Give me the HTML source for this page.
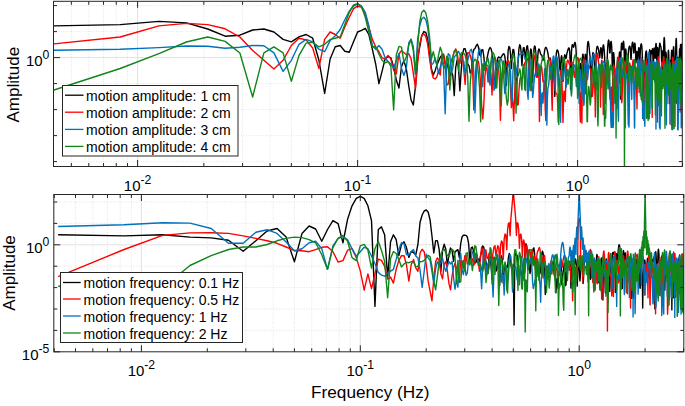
<!DOCTYPE html>
<html><head><meta charset="utf-8"><style>
html,body{margin:0;padding:0;background:#fff;width:685px;height:406px;overflow:hidden}
svg{display:block}
</style></head><body>
<svg width="685" height="406" viewBox="0 0 685 406">
<defs>
<clipPath id="ct"><rect x="53.5" y="1.3" width="628.8" height="165.2"/></clipPath>
<clipPath id="cb"><rect x="53.8" y="194.5" width="630.0" height="157.3"/></clipPath>
</defs>
<rect width="685" height="406" fill="#fff"/>
<line x1="71.37" y1="1.3" x2="71.37" y2="166.5" stroke="#c8c8c8" stroke-width="0.6" stroke-dasharray="0.8 1.7"/>
<line x1="88.79" y1="1.3" x2="88.79" y2="166.5" stroke="#c8c8c8" stroke-width="0.6" stroke-dasharray="0.8 1.7"/>
<line x1="103.52" y1="1.3" x2="103.52" y2="166.5" stroke="#c8c8c8" stroke-width="0.6" stroke-dasharray="0.8 1.7"/>
<line x1="116.28" y1="1.3" x2="116.28" y2="166.5" stroke="#c8c8c8" stroke-width="0.6" stroke-dasharray="0.8 1.7"/>
<line x1="127.53" y1="1.3" x2="127.53" y2="166.5" stroke="#c8c8c8" stroke-width="0.6" stroke-dasharray="0.8 1.7"/>
<line x1="203.83" y1="1.3" x2="203.83" y2="166.5" stroke="#c8c8c8" stroke-width="0.6" stroke-dasharray="0.8 1.7"/>
<line x1="242.57" y1="1.3" x2="242.57" y2="166.5" stroke="#c8c8c8" stroke-width="0.6" stroke-dasharray="0.8 1.7"/>
<line x1="270.05" y1="1.3" x2="270.05" y2="166.5" stroke="#c8c8c8" stroke-width="0.6" stroke-dasharray="0.8 1.7"/>
<line x1="291.37" y1="1.3" x2="291.37" y2="166.5" stroke="#c8c8c8" stroke-width="0.6" stroke-dasharray="0.8 1.7"/>
<line x1="308.79" y1="1.3" x2="308.79" y2="166.5" stroke="#c8c8c8" stroke-width="0.6" stroke-dasharray="0.8 1.7"/>
<line x1="323.52" y1="1.3" x2="323.52" y2="166.5" stroke="#c8c8c8" stroke-width="0.6" stroke-dasharray="0.8 1.7"/>
<line x1="336.28" y1="1.3" x2="336.28" y2="166.5" stroke="#c8c8c8" stroke-width="0.6" stroke-dasharray="0.8 1.7"/>
<line x1="347.53" y1="1.3" x2="347.53" y2="166.5" stroke="#c8c8c8" stroke-width="0.6" stroke-dasharray="0.8 1.7"/>
<line x1="423.83" y1="1.3" x2="423.83" y2="166.5" stroke="#c8c8c8" stroke-width="0.6" stroke-dasharray="0.8 1.7"/>
<line x1="462.57" y1="1.3" x2="462.57" y2="166.5" stroke="#c8c8c8" stroke-width="0.6" stroke-dasharray="0.8 1.7"/>
<line x1="490.05" y1="1.3" x2="490.05" y2="166.5" stroke="#c8c8c8" stroke-width="0.6" stroke-dasharray="0.8 1.7"/>
<line x1="511.37" y1="1.3" x2="511.37" y2="166.5" stroke="#c8c8c8" stroke-width="0.6" stroke-dasharray="0.8 1.7"/>
<line x1="528.79" y1="1.3" x2="528.79" y2="166.5" stroke="#c8c8c8" stroke-width="0.6" stroke-dasharray="0.8 1.7"/>
<line x1="543.52" y1="1.3" x2="543.52" y2="166.5" stroke="#c8c8c8" stroke-width="0.6" stroke-dasharray="0.8 1.7"/>
<line x1="556.28" y1="1.3" x2="556.28" y2="166.5" stroke="#c8c8c8" stroke-width="0.6" stroke-dasharray="0.8 1.7"/>
<line x1="567.53" y1="1.3" x2="567.53" y2="166.5" stroke="#c8c8c8" stroke-width="0.6" stroke-dasharray="0.8 1.7"/>
<line x1="643.83" y1="1.3" x2="643.83" y2="166.5" stroke="#c8c8c8" stroke-width="0.6" stroke-dasharray="0.8 1.7"/>
<line x1="682.57" y1="1.3" x2="682.57" y2="166.5" stroke="#c8c8c8" stroke-width="0.6" stroke-dasharray="0.8 1.7"/>
<line x1="53.5" y1="161.60" x2="682.3" y2="161.60" stroke="#c8c8c8" stroke-width="0.6" stroke-dasharray="0.8 1.7"/>
<line x1="53.5" y1="135.60" x2="682.3" y2="135.60" stroke="#c8c8c8" stroke-width="0.6" stroke-dasharray="0.8 1.7"/>
<line x1="53.5" y1="109.60" x2="682.3" y2="109.60" stroke="#c8c8c8" stroke-width="0.6" stroke-dasharray="0.8 1.7"/>
<line x1="53.5" y1="83.60" x2="682.3" y2="83.60" stroke="#c8c8c8" stroke-width="0.6" stroke-dasharray="0.8 1.7"/>
<line x1="53.5" y1="31.60" x2="682.3" y2="31.60" stroke="#c8c8c8" stroke-width="0.6" stroke-dasharray="0.8 1.7"/>
<line x1="53.5" y1="5.60" x2="682.3" y2="5.60" stroke="#c8c8c8" stroke-width="0.6" stroke-dasharray="0.8 1.7"/>
<line x1="137.60" y1="1.3" x2="137.60" y2="166.5" stroke="#d9d9d9" stroke-width="0.8"/>
<line x1="357.60" y1="1.3" x2="357.60" y2="166.5" stroke="#d9d9d9" stroke-width="0.8"/>
<line x1="577.60" y1="1.3" x2="577.60" y2="166.5" stroke="#d9d9d9" stroke-width="0.8"/>
<line x1="53.5" y1="57.60" x2="682.3" y2="57.60" stroke="#d9d9d9" stroke-width="0.8"/>
<polyline points="53.95,25.90 120.18,24.60 158.92,21.40 186.41,22.90 207.73,29.00 225.15,36.20 239.88,35.20 252.63,30.00 263.89,29.00 273.95,32.00 283.06,39.40 291.37,41.80 299.02,36.90 306.10,34.50 312.69,38.20 318.86,60.00 324.65,93.50 330.11,59.00 335.28,46.80 340.18,45.50 344.84,51.20 349.29,52.20 353.53,41.80 357.60,32.00 361.50,30.30 365.25,28.30 368.85,34.50 372.33,49.20 375.68,64.00 378.92,83.70 382.05,71.40 385.09,59.00 388.03,56.60 390.88,57.80 393.65,67.00 396.34,80.00 398.96,88.00 401.51,66.50 403.99,60.60 406.41,69.50 408.77,86.20 411.07,100.00 413.32,105.00 415.51,86.20 417.66,58.60 419.76,47.00 421.82,35.50 423.83,31.60 425.80,32.50 427.73,39.40 429.62,55.20 431.47,69.00 433.29,75.00 435.08,71.00 436.83,65.10 438.55,61.10 440.25,57.20 441.91,55.20 443.54,54.20 445.15,63.87 446.73,63.02 448.28,68.09 449.81,76.68 451.31,71.56 452.79,75.20 454.25,95.64 455.69,67.63 457.11,59.89 458.50,67.04 459.88,90.87 461.23,70.08 462.57,53.88 463.88,48.71 465.18,48.60 466.47,54.08 467.73,64.18 468.98,65.64 470.21,72.99 471.43,71.62 472.63,54.09 473.82,49.53 474.99,48.42 476.15,45.86 477.29,44.17 478.43,46.85 479.54,54.59 480.65,56.23 481.74,49.88 482.82,49.76 483.89,57.02 484.94,69.92 485.99,65.22 487.02,58.64 488.04,53.28 489.05,49.29 490.05,47.50 491.04,48.61 492.02,52.48 492.99,60.65 493.95,75.26 494.90,88.57 495.85,74.33 496.78,63.63 497.70,58.28 498.62,56.87 499.52,57.50 500.42,58.22 501.31,57.02 502.19,55.47 503.06,54.11 503.92,53.74 504.78,55.95 505.63,63.89 506.47,85.44 507.31,66.26 508.13,50.90 508.95,46.50 509.77,47.59 510.57,54.74 511.37,68.48 512.17,56.17 512.95,49.51 513.73,49.64 514.51,56.52 515.27,80.39 516.04,103.24 516.79,79.41 517.54,73.00 518.28,57.42 519.02,48.17 519.75,44.70 520.48,46.10 521.20,53.02 521.92,65.66 522.63,54.33 523.33,47.88 524.03,47.58 524.73,52.79 525.42,59.70 526.10,51.94 526.78,46.41 527.46,45.80 528.13,50.92 528.79,70.75 529.45,72.64 530.11,53.14 530.76,48.86 531.41,50.57 532.05,60.63 532.69,82.76 533.33,59.23 533.96,48.98 534.59,45.92 535.21,46.95 535.83,52.80 536.44,69.78 537.05,77.25 537.66,57.99 538.26,50.93 538.86,48.95 539.46,49.69 540.05,52.00 540.63,54.19 541.22,54.87 541.80,55.27 542.38,57.26 542.95,60.27 543.52,59.82 544.09,54.64 544.65,50.57 545.21,48.14 545.77,47.36 546.32,47.81 546.87,49.09 547.42,50.96 547.97,53.48 548.51,57.25 549.05,60.25 549.58,59.31 550.11,58.07 550.64,59.52 551.17,66.05 551.69,83.34 552.21,93.79 552.73,70.15 553.25,61.52 553.76,60.97 554.27,68.65 554.78,96.39 555.28,85.90 555.78,62.64 556.28,53.82 556.78,50.84 557.27,49.89 557.76,50.48 558.25,52.03 558.74,54.50 559.22,59.69 559.70,67.36 560.18,71.04 560.66,64.45 561.13,57.97 561.60,55.74 562.07,58.33 562.54,66.84 563.00,81.50 563.47,75.74 563.93,62.79 564.39,56.28 564.84,54.74 565.30,56.23 565.75,58.54 566.20,58.02 566.64,54.94 567.09,52.72 567.53,51.08 567.97,49.72 568.41,48.51 568.85,47.83 569.29,48.40 569.72,51.55 570.15,61.17 570.58,89.57 571.01,70.47 571.43,52.75 571.86,46.88 572.28,44.69 572.70,44.92 573.12,46.46 573.53,47.31 573.95,46.06 574.36,43.88 574.77,42.48 575.18,42.70 575.59,44.93 575.99,49.20 576.40,57.11 576.80,72.72 577.20,81.55 577.60,73.31 578.00,70.24 578.39,74.37 578.79,88.10 579.18,96.20 579.57,76.85 579.96,67.27 580.35,63.55 580.73,65.14 581.12,71.95 581.50,78.44 581.88,70.00 582.26,59.99 582.64,54.72 583.02,54.14 583.39,57.63 583.77,67.25 584.14,80.49 584.51,71.04 584.88,58.98 585.25,54.25 585.61,54.94 585.98,63.26 586.34,92.29 586.71,76.54 587.07,53.60 587.43,46.06 587.79,42.42 588.14,41.35 588.50,42.36 588.85,44.70 589.21,48.29 589.56,52.24 589.91,55.36 590.26,58.25 590.61,62.43 590.95,71.41 591.30,95.06 591.64,96.56 591.99,69.53 592.33,58.53 592.67,53.79 593.01,52.59 593.35,53.12 593.68,55.04 594.02,59.16 594.35,64.36 594.69,69.87 595.02,73.37 595.35,71.06 595.68,63.90 596.01,56.28 596.34,51.50 596.66,48.52 596.99,46.89 597.31,46.33 597.64,46.59 597.96,47.39 598.28,48.58 598.60,50.19 598.92,52.36 599.24,55.09 599.56,57.87 599.87,56.55 600.19,52.75 600.50,49.50 600.81,47.72 601.12,47.86 601.43,50.03 601.74,54.06 602.05,58.50 602.36,55.64 602.67,50.45 602.97,46.70 603.28,44.93 603.58,45.02 603.88,46.85 604.19,50.33 604.49,55.00 604.79,61.03 605.09,64.17 605.38,65.38 605.68,67.65 605.98,72.68 606.27,79.86 606.57,81.22 606.86,71.50 607.15,60.44 607.45,52.33 607.74,47.14 608.03,43.27 608.32,40.91 608.60,40.05 608.89,40.82 609.18,43.40 609.46,47.88 609.75,52.92 610.03,52.87 610.32,47.92 610.60,43.69 610.88,41.53 611.16,41.40 611.44,43.11 611.72,47.09 612.00,54.03 612.27,68.64 612.55,75.15 612.83,63.30 613.10,55.21 613.38,52.71 613.65,52.68 613.92,54.53 614.19,59.18 614.46,66.36 614.73,76.90 615.00,92.29 615.27,103.21 615.54,92.59 615.81,84.37 616.07,80.53 616.34,78.01 616.61,74.95 616.87,70.46 617.13,65.00 617.40,60.38 617.66,57.79 617.92,57.82 618.18,60.99 618.44,66.35 618.70,68.12 618.96,61.80 619.22,54.88 619.47,52.06 619.73,52.14 619.99,55.84 620.24,68.46 620.49,99.01 620.75,67.99 621.00,52.61 621.25,46.55 621.51,43.64 621.76,43.10 622.01,44.53 622.26,47.34 622.51,49.66 622.75,48.60 623.00,45.02 623.25,42.17 623.50,41.16 623.74,42.29 623.99,45.99 624.23,53.53 624.48,74.22 624.72,91.46 624.96,61.60 625.20,52.16 625.45,49.13 625.69,48.88 625.93,50.36 626.17,53.50 626.41,59.27 626.65,66.55 626.88,72.83 627.12,76.77 627.36,77.88 627.59,73.67 627.83,65.75 628.06,58.25 628.30,53.24 628.53,50.43 628.77,48.63 629.00,47.54 629.23,46.82 629.46,46.33 629.69,46.12 629.92,46.41 630.15,47.47 630.38,49.92 630.61,53.45 630.84,57.85 631.07,59.34 631.30,55.63 631.52,51.48 631.75,48.05 631.97,45.46 632.20,43.61 632.42,42.48 632.65,42.15 632.87,42.73 633.09,44.35 633.32,46.92 633.54,50.34 633.76,53.00 633.98,52.18 634.20,48.77 634.42,45.56 634.64,43.59 634.86,43.10 635.08,44.19 635.30,46.97 635.51,51.51 635.73,58.00 635.95,62.86 636.16,59.97 636.38,54.78 636.59,52.31 636.81,51.49 637.02,52.12 637.23,53.98 637.45,57.35 637.66,60.71 637.87,60.69 638.08,56.61 638.30,52.40 638.51,49.35 638.72,47.84 638.93,47.68 639.14,48.97 639.34,51.85 639.55,56.76 639.76,62.42 639.97,61.33 640.17,54.86 640.38,50.27 640.59,47.04 640.79,45.06 641.00,44.09 641.20,43.83 641.41,43.93 641.61,44.72 641.82,46.32 642.02,49.00 642.22,53.17 642.42,61.35 642.62,74.26 642.83,89.86 643.03,84.02 643.23,73.95 643.43,69.49 643.63,69.47 643.83,73.51 644.03,83.00 644.22,103.62 644.42,103.62 644.62,87.90 644.82,75.47 645.01,67.80 645.21,61.91 645.41,57.58 645.60,54.48 645.80,52.69 645.99,51.50 646.19,50.94 646.38,50.99 646.57,51.89 646.77,53.83 646.96,57.84 647.15,64.47 647.34,72.52 647.54,74.72 647.73,68.39 647.92,62.25 648.11,59.15 648.30,59.55 648.49,64.32 648.68,77.84 648.87,103.62 649.06,74.47 649.24,58.59 649.43,52.07 649.62,49.81 649.81,50.23 649.99,53.73 650.18,64.14 650.37,91.83 650.55,84.55 650.74,62.32 650.92,53.67 651.11,51.00 651.29,50.62 651.47,51.74 651.66,53.30 651.84,53.73 652.02,52.45 652.21,50.27 652.39,48.79 652.57,49.01 652.75,51.42 652.93,57.39 653.11,70.19 653.29,78.00 653.47,64.92 653.65,54.74 653.83,50.52 654.01,48.46 654.19,47.92 654.37,48.43 654.55,49.65 654.73,51.76 654.90,54.66 655.08,58.24 655.26,57.88 655.43,53.23 655.61,48.62 655.79,45.21 655.96,43.49 656.14,43.61 656.31,45.82 656.49,50.73 656.66,59.80 656.83,73.21 657.01,65.29 657.18,53.91 657.35,49.26 657.53,47.49 657.70,47.90 657.87,50.46 658.04,55.30 658.21,64.22 658.38,69.73 658.55,65.78 658.73,59.88 658.90,55.18 659.07,52.10 659.23,49.14 659.40,46.46 659.57,44.42 659.74,43.35 659.91,43.22 660.08,43.77 660.25,44.64 660.41,45.43 660.58,45.97 660.75,46.20 660.91,46.73 661.08,48.13 661.25,50.62 661.41,54.27 661.58,60.45 661.74,66.96 661.91,69.01 662.07,64.41 662.24,57.97 662.40,53.42 662.56,51.22 662.73,50.83 662.89,52.66 663.05,58.66 663.22,71.95 663.38,72.59 663.54,55.04 663.70,46.71 663.86,41.63 664.03,38.73 664.19,37.52 664.35,37.80 664.51,39.53 664.67,42.98 664.83,48.64 664.99,58.88 665.15,84.19 665.31,94.20 665.46,68.00 665.62,57.79 665.78,53.47 665.94,52.23 666.10,52.82 666.26,55.35 666.41,61.92 666.57,75.13 666.73,103.62 666.88,92.64 667.04,74.75 667.19,69.00 667.35,69.63 667.51,75.31 667.66,82.56 667.82,74.69 667.97,62.40 668.13,54.47 668.28,51.19 668.43,50.28 668.59,51.29 668.74,54.27 668.89,61.29 669.05,72.97 669.20,93.24 669.35,103.62 669.50,97.99 669.66,100.71 669.81,103.62 669.96,91.68 670.11,72.99 670.26,64.05 670.41,60.13 670.56,60.26 670.71,64.24 670.86,70.88 671.01,72.51 671.16,65.10 671.31,57.19 671.46,52.81 671.61,50.82 671.76,50.20 671.91,50.47 672.06,51.46 672.20,52.96 672.35,55.19 672.50,60.20 672.65,69.55 672.79,85.80 672.94,77.55 673.09,60.72 673.23,52.14 673.38,48.32 673.53,46.69 673.67,46.86 673.82,48.85 673.96,52.84 674.11,60.80 674.25,72.82 674.40,77.82 674.54,71.64 674.69,67.75 674.83,68.22 674.97,73.03 675.12,83.23 675.26,93.15 675.40,76.31 675.55,60.42 675.69,50.84 675.83,45.10 675.97,41.04 676.12,38.82 676.26,38.47 676.40,40.12 676.54,44.20 676.68,51.92 676.82,72.63 676.96,103.56 677.11,67.56 677.25,59.87 677.39,61.09 677.53,70.19 677.67,89.58 677.81,79.57 677.94,65.57 678.08,60.82 678.22,62.85 678.36,73.25 678.50,103.62 678.64,93.26 678.78,74.38 678.91,69.87 679.05,69.77 679.19,66.79 679.33,58.36 679.46,51.95 679.60,48.99 679.74,48.64 679.88,50.81 680.01,54.81 680.15,55.87 680.28,50.76 680.42,46.22 680.56,44.44 680.69,45.49 680.83,49.63 680.96,57.53 681.10,61.74 681.23,53.28 681.36,47.71 681.50,44.83 681.63,44.12 681.77,45.16 681.90,47.71 682.03,51.74 682.17,58.65 682.30,70.59 682.43,87.89 682.57,90.55" fill="none" stroke="#000000" stroke-width="1.4" stroke-linejoin="round" clip-path="url(#ct)"/>
<polyline points="53.95,43.90 120.18,37.00 158.92,25.90 186.41,23.40 207.73,24.60 225.15,28.80 239.88,37.00 252.63,50.50 263.89,60.30 273.95,69.00 283.06,60.30 291.37,45.50 299.02,38.20 306.10,39.90 312.69,48.00 318.86,68.40 324.65,39.40 330.11,32.00 335.28,34.50 340.18,38.20 344.84,27.00 349.29,17.20 353.53,8.60 357.60,6.20 361.50,7.40 365.25,14.80 368.85,27.00 372.33,39.40 375.68,46.80 378.92,51.70 382.05,57.80 385.09,59.00 388.03,55.40 390.88,59.00 393.65,70.00 396.34,74.00 398.96,53.70 401.51,50.80 403.99,52.70 406.41,54.70 408.77,53.70 411.07,58.60 413.32,73.40 415.51,88.20 417.66,62.60 419.76,43.50 421.82,35.50 423.83,33.90 425.80,36.50 427.73,44.40 429.62,59.20 431.47,71.00 433.29,78.00 435.08,79.00 436.83,77.00 438.55,71.00 440.25,75.07 441.91,54.88 443.54,54.78 445.15,64.47 446.73,85.09 448.28,83.84 449.81,66.81 451.31,60.61 452.79,56.87 454.25,51.45 455.69,48.87 457.11,52.12 458.50,63.19 459.88,63.36 461.23,54.94 462.57,55.91 463.88,71.00 465.18,84.36 466.47,58.33 467.73,52.75 468.98,52.63 470.21,55.26 471.43,59.99 472.63,70.31 473.82,109.97 474.99,84.30 476.15,64.54 477.29,60.04 478.43,61.69 479.54,68.79 480.65,85.14 481.74,106.41 482.82,118.94 483.89,103.44 484.94,76.28 485.99,66.92 487.02,69.02 488.04,81.99 489.05,78.71 490.05,69.54 491.04,74.63 492.02,94.99 492.99,69.93 493.95,58.86 494.90,56.90 495.85,60.65 496.78,67.38 497.70,69.09 498.62,69.80 499.52,81.73 500.42,120.23 501.31,88.52 502.19,73.90 503.06,72.13 503.92,73.88 504.78,70.94 505.63,65.91 506.47,62.91 507.31,60.96 508.13,60.45 508.95,62.26 509.77,69.17 510.57,89.21 511.37,107.62 512.17,96.87 512.95,104.36 513.73,120.70 514.51,95.47 515.27,82.94 516.04,81.68 516.79,89.28 517.54,105.14 518.28,104.55 519.02,89.25 519.75,80.49 520.48,77.13 521.20,77.72 521.92,80.18 522.63,78.21 523.33,71.26 524.03,65.72 524.73,63.19 525.42,61.94 526.10,60.79 526.78,59.42 527.46,58.89 528.13,60.94 528.79,66.61 529.45,80.80 530.11,90.81 530.76,78.68 531.41,68.67 532.05,63.16 532.69,58.74 533.33,55.88 533.96,55.14 534.59,57.21 535.21,63.03 535.83,75.98 536.44,77.11 537.05,66.20 537.66,63.09 538.26,65.51 538.86,78.24 539.46,121.61 540.05,84.31 540.63,68.62 541.22,65.85 541.80,67.78 542.38,74.82 542.95,81.68 543.52,81.48 544.09,80.54 544.65,86.57 545.21,108.19 545.77,120.48 546.32,86.00 546.87,72.10 547.42,65.81 547.97,62.41 548.51,60.10 549.05,58.65 549.58,58.35 550.11,59.93 550.64,64.05 551.17,73.18 551.69,96.23 552.21,110.32 552.73,84.74 553.25,76.01 553.76,74.27 554.27,76.86 554.78,82.35 555.28,88.91 555.78,93.04 556.28,93.77 556.78,93.69 557.27,95.69 557.76,104.81 558.25,122.28 558.74,116.68 559.22,91.24 559.70,79.87 560.18,73.49 560.66,70.69 561.13,71.17 561.60,75.34 562.07,84.76 562.54,104.16 563.00,122.45 563.47,101.05 563.93,91.25 564.39,91.42 564.84,98.93 565.30,101.54 565.75,85.18 566.20,71.80 566.64,65.15 567.09,61.73 567.53,60.25 567.97,60.26 568.41,61.32 568.85,62.86 569.29,64.14 569.72,64.71 570.15,64.52 570.58,63.85 571.01,63.06 571.43,62.37 571.86,62.11 572.28,62.57 572.70,63.98 573.12,66.52 573.53,69.97 573.95,74.81 574.36,77.42 574.77,75.84 575.18,71.78 575.59,68.15 575.99,65.27 576.40,62.68 576.80,60.41 577.20,58.65 577.60,57.64 578.00,57.73 578.39,59.24 578.79,62.44 579.18,68.03 579.57,80.73 579.96,108.48 580.35,121.95 580.73,96.98 581.12,92.76 581.50,101.22 581.88,123.12 582.26,91.55 582.64,72.47 583.02,64.37 583.39,60.39 583.77,58.92 584.14,59.65 584.51,62.58 584.88,68.02 585.25,79.44 585.61,93.75 585.98,89.65 586.34,79.06 586.71,72.68 587.07,69.38 587.43,67.77 587.79,66.63 588.14,65.80 588.50,65.35 588.85,65.76 589.21,66.59 589.56,67.58 589.91,68.41 590.26,69.00 590.61,69.76 590.95,71.75 591.30,75.78 591.64,82.12 591.99,90.39 592.33,96.40 592.67,94.33 593.01,89.00 593.35,84.73 593.68,81.93 594.02,80.62 594.35,81.51 594.69,85.83 595.02,97.14 595.35,117.05 595.68,88.07 596.01,69.52 596.34,61.54 596.66,56.66 596.99,54.01 597.31,53.21 597.64,54.10 597.96,56.54 598.28,60.09 598.60,63.56 598.92,65.07 599.24,64.81 599.56,65.20 599.87,68.17 600.19,78.11 600.50,107.16 600.81,90.64 601.12,69.76 601.43,62.97 601.74,60.21 602.05,60.46 602.36,63.63 602.67,70.76 602.97,92.88 603.28,114.44 603.58,81.55 603.88,70.63 604.19,68.56 604.49,70.65 604.79,79.65 605.09,99.23 605.38,103.48 605.68,81.23 605.98,70.17 606.27,65.94 606.57,63.80 606.86,63.05 607.15,63.31 607.45,64.35 607.74,66.22 608.03,69.04 608.32,72.89 608.60,77.62 608.89,81.81 609.18,85.54 609.46,89.70 609.75,94.81 610.03,99.17 610.32,97.90 610.60,92.39 610.88,88.04 611.16,87.05 611.44,91.39 611.72,103.40 612.00,124.19 612.27,105.94 612.55,85.95 612.83,74.90 613.10,69.14 613.38,66.41 613.65,65.12 613.92,65.13 614.19,66.46 614.46,69.30 614.73,74.76 615.00,82.34 615.27,86.32 615.54,83.28 615.81,79.56 616.07,79.36 616.34,84.69 616.61,95.83 616.87,90.46 617.13,73.69 617.40,65.01 617.66,60.15 617.92,57.57 618.18,56.90 618.44,57.87 618.70,60.47 618.96,64.71 619.22,70.50 619.47,78.92 619.73,82.70 619.99,81.61 620.24,80.18 620.49,80.61 620.75,83.24 621.00,87.78 621.25,93.51 621.51,99.38 621.76,102.77 622.01,100.33 622.26,92.49 622.51,82.87 622.75,73.84 623.00,67.89 623.25,64.00 623.50,61.49 623.74,60.33 623.99,60.52 624.23,62.04 624.48,64.96 624.72,68.31 624.96,70.02 625.20,68.74 625.45,66.25 625.69,64.41 625.93,63.86 626.17,64.57 626.41,66.26 626.65,68.49 626.88,70.77 627.12,73.44 627.36,76.42 627.59,80.62 627.83,89.10 628.06,108.48 628.30,124.76 628.53,93.05 628.77,77.08 629.00,69.13 629.23,65.30 629.46,63.35 629.69,63.01 629.92,64.18 630.15,66.71 630.38,70.23 630.61,72.40 630.84,70.72 631.07,67.90 631.30,66.19 631.52,66.43 631.75,68.89 631.97,72.64 632.20,73.49 632.42,68.81 632.65,64.01 632.87,60.85 633.09,59.59 633.32,60.04 633.54,62.56 633.76,67.51 633.98,77.20 634.20,93.77 634.42,98.27 634.64,88.96 634.86,84.29 635.08,84.38 635.30,86.46 635.51,85.68 635.73,80.79 635.95,76.01 636.16,73.76 636.38,75.40 636.59,82.62 636.81,100.49 637.02,108.89 637.23,81.80 637.45,69.10 637.66,63.55 637.87,60.60 638.08,59.63 638.30,60.45 638.51,63.16 638.72,68.57 638.93,79.46 639.14,92.42 639.34,85.19 639.55,74.39 639.76,69.40 639.97,67.56 640.17,67.31 640.38,67.51 640.59,66.79 640.79,64.60 641.00,61.85 641.20,59.62 641.41,58.47 641.61,58.55 641.82,59.93 642.02,62.50 642.22,65.63 642.42,67.64 642.62,67.00 642.83,65.13 643.03,63.88 643.23,64.19 643.43,66.56 643.63,71.70 643.83,84.03 644.03,106.14 644.22,106.67 644.42,89.18 644.62,81.68 644.82,79.68 645.01,79.79 645.21,77.76 645.41,72.52 645.60,67.91 645.80,64.15 645.99,61.75 646.19,60.75 646.38,60.96 646.57,62.10 646.77,63.67 646.96,65.10 647.15,66.25 647.34,67.67 647.54,69.86 647.73,74.92 647.92,87.47 648.11,114.24 648.30,97.62 648.49,78.89 648.68,70.61 648.87,67.78 649.06,67.73 649.24,70.05 649.43,75.19 649.62,82.21 649.81,85.18 649.99,83.67 650.18,83.43 650.37,84.67 650.55,82.53 650.74,74.60 650.92,68.03 651.11,63.81 651.29,61.73 651.47,61.87 651.66,64.57 651.84,70.89 652.02,89.78 652.21,117.39 652.39,82.20 652.57,69.42 652.75,64.72 652.93,63.04 653.11,63.69 653.29,66.75 653.47,71.98 653.65,79.00 653.83,79.60 654.01,75.11 654.19,71.91 654.37,71.28 654.55,72.25 654.73,74.72 654.90,77.43 655.08,78.74 655.26,77.88 655.43,75.39 655.61,72.95 655.79,70.49 655.96,68.00 656.14,65.94 656.31,64.72 656.49,64.63 656.66,65.72 656.83,68.73 657.01,75.83 657.18,95.47 657.35,122.14 657.53,80.66 657.70,67.29 657.87,61.25 658.04,58.00 658.21,56.83 658.38,57.53 658.55,60.10 658.73,64.65 658.90,71.45 659.07,83.52 659.23,94.50 659.40,97.32 659.57,100.16 659.74,107.11 659.91,105.61 660.08,91.85 660.25,81.63 660.41,76.50 660.58,75.80 660.75,79.22 660.91,84.36 661.08,82.39 661.25,73.26 661.41,67.51 661.58,63.99 661.74,62.37 661.91,62.23 662.07,63.08 662.24,64.42 662.40,65.75 662.56,66.65 662.73,66.46 662.89,65.18 663.05,63.10 663.22,60.53 663.38,58.21 663.54,56.83 663.70,56.81 663.86,58.58 664.03,62.64 664.19,69.39 664.35,77.09 664.51,72.55 664.67,66.24 664.83,62.71 664.99,62.02 665.15,64.02 665.31,68.85 665.46,77.56 665.62,83.45 665.78,75.11 665.94,69.44 666.10,67.72 666.26,69.03 666.41,73.32 666.57,83.68 666.73,93.06 666.88,89.98 667.04,84.20 667.19,81.72 667.35,81.18 667.51,79.23 667.66,76.17 667.82,72.68 667.97,70.32 668.13,68.62 668.28,67.75 668.43,67.70 668.59,68.68 668.74,70.64 668.89,72.84 669.05,73.07 669.20,70.19 669.35,66.71 669.50,63.82 669.66,62.29 669.81,62.38 669.96,64.21 670.11,67.88 670.26,73.59 670.41,83.28 670.56,90.62 670.71,92.96 670.86,95.94 671.01,105.63 671.16,124.92 671.31,117.52 671.46,104.91 671.61,103.63 671.76,109.65 671.91,95.82 672.06,77.66 672.20,67.94 672.35,62.57 672.50,59.35 672.65,57.72 672.79,57.27 672.94,58.04 673.09,59.93 673.23,62.88 673.38,66.70 673.53,70.34 673.67,71.41 673.82,68.67 673.96,64.89 674.11,62.30 674.25,61.61 674.40,63.23 674.54,67.62 674.69,76.97 674.83,100.05 674.97,126.42 675.12,99.33 675.26,89.11 675.40,83.42 675.55,75.84 675.69,69.17 675.83,64.53 675.97,61.85 676.12,61.18 676.26,62.59 676.40,66.19 676.54,72.20 676.68,82.71 676.82,87.42 676.96,80.78 677.11,73.42 677.25,69.83 677.39,67.75 677.53,67.45 677.67,68.96 677.81,72.78 677.94,83.47 678.08,109.59 678.22,115.00 678.36,85.36 678.50,73.75 678.64,69.93 678.78,68.91 678.91,69.90 679.05,72.83 679.19,76.69 679.33,77.15 679.46,74.44 679.60,72.57 679.74,73.00 679.88,77.62 680.01,88.38 680.15,112.13 680.28,107.92 680.42,85.44 680.56,74.94 680.69,71.00 680.83,70.04 680.96,71.09 681.10,73.84 681.23,78.45 681.36,83.45 681.50,88.24 681.63,91.51 681.77,91.76 681.90,89.60 682.03,86.54 682.17,83.01 682.30,79.33 682.43,75.98 682.57,73.61" fill="none" stroke="#ff0000" stroke-width="1.4" stroke-linejoin="round" clip-path="url(#ct)"/>
<polyline points="53.95,50.30 120.18,49.30 158.92,47.60 186.41,46.00 207.73,46.30 225.15,48.30 239.88,47.30 252.63,45.50 263.89,45.80 273.95,52.90 283.06,71.40 291.37,60.30 299.02,44.30 306.10,39.40 312.69,41.80 318.86,49.20 324.65,51.70 330.11,40.60 335.28,35.70 340.18,29.50 344.84,19.70 349.29,11.00 353.53,6.20 357.60,4.20 361.50,6.20 365.25,12.30 368.85,25.80 372.33,45.50 375.68,49.20 378.92,45.50 382.05,49.20 385.09,57.80 388.03,61.50 390.88,64.00 393.65,68.00 396.34,60.60 398.96,53.70 401.51,68.50 403.99,75.40 406.41,67.50 408.77,42.90 411.07,39.00 413.32,46.80 415.51,74.40 417.66,39.00 419.76,25.60 421.82,18.70 423.83,17.20 425.80,19.70 427.73,27.60 429.62,43.40 431.47,65.10 433.29,63.10 435.08,58.20 436.83,65.10 438.55,73.00 440.25,67.00 441.91,60.20 443.54,67.00 445.15,113.81 446.73,65.25 448.28,53.59 449.81,55.33 451.31,73.78 452.79,68.43 454.25,56.73 455.69,55.50 457.11,53.57 458.50,51.44 459.88,54.32 461.23,59.59 462.57,59.34 463.88,61.70 465.18,74.68 466.47,69.54 467.73,60.71 468.98,55.31 470.21,50.33 471.43,49.34 472.63,54.87 473.82,73.14 474.99,112.92 476.15,79.94 477.29,62.08 478.43,51.86 479.54,48.46 480.65,52.03 481.74,66.32 482.82,86.68 483.89,63.90 484.94,61.98 485.99,65.08 487.02,65.08 488.04,65.94 489.05,80.99 490.05,85.14 491.04,63.16 492.02,58.44 492.99,62.66 493.95,90.51 494.90,84.60 495.85,64.36 496.78,62.51 497.70,67.08 498.62,69.30 499.52,62.61 500.42,58.89 501.31,59.14 502.19,61.89 503.06,67.55 503.92,80.74 504.78,93.56 505.63,89.24 506.47,77.82 507.31,69.44 508.13,65.50 508.95,63.93 509.77,65.36 510.57,72.85 511.37,99.23 512.17,101.86 512.95,71.46 513.73,63.40 514.51,61.63 515.27,63.85 516.04,70.39 516.79,74.56 517.54,65.11 518.28,58.52 519.02,55.14 519.75,54.08 520.48,54.20 521.20,54.28 521.92,53.66 522.63,53.24 523.33,53.81 524.03,55.26 524.73,56.81 525.42,58.36 526.10,61.28 526.78,68.08 527.46,92.90 528.13,99.23 528.79,70.26 529.45,63.24 530.11,61.50 530.76,63.70 531.41,69.72 532.05,83.96 532.69,97.42 533.33,92.24 533.96,82.83 534.59,76.36 535.21,73.21 535.83,73.55 536.44,75.01 537.05,72.72 537.66,67.67 538.26,64.60 538.86,64.23 539.46,67.25 540.05,77.39 540.63,101.78 541.22,115.55 541.80,93.99 542.38,92.69 542.95,103.11 543.52,95.09 544.09,77.25 544.65,69.12 545.21,68.56 545.77,74.83 546.32,93.66 546.87,125.13 547.42,97.77 547.97,87.60 548.51,86.43 549.05,80.91 549.58,69.86 550.11,65.45 550.64,65.36 551.17,70.31 551.69,80.27 552.21,69.71 552.73,60.76 553.25,56.38 553.76,56.10 554.27,60.35 554.78,72.41 555.28,91.01 555.78,67.35 556.28,59.27 556.78,56.75 557.27,58.07 557.76,63.06 558.25,72.44 558.74,85.82 559.22,87.69 559.70,90.11 560.18,108.38 560.66,122.21 561.13,86.26 561.60,74.09 562.07,70.25 562.54,73.02 563.00,80.05 563.47,79.72 563.93,70.46 564.39,66.25 564.84,65.59 565.30,68.65 565.75,77.98 566.20,87.11 566.64,79.29 567.09,71.22 567.53,69.63 567.97,72.24 568.41,77.26 568.85,76.30 569.29,70.78 569.72,68.44 570.15,69.08 570.58,74.58 571.01,87.01 571.43,94.31 571.86,80.15 572.28,70.14 572.70,66.63 573.12,65.14 573.53,64.68 573.95,64.79 574.36,65.15 574.77,66.14 575.18,68.53 575.59,74.10 575.99,81.92 576.40,86.67 576.80,79.86 577.20,71.31 577.60,68.08 578.00,67.96 578.39,71.20 578.79,83.02 579.18,103.48 579.57,90.46 579.96,74.99 580.35,69.69 580.73,69.86 581.12,75.48 581.50,88.99 581.88,99.97 582.26,86.24 582.64,76.84 583.02,75.47 583.39,82.47 583.77,105.48 584.14,102.88 584.51,75.61 584.88,65.75 585.25,61.55 585.61,60.16 585.98,61.01 586.34,63.85 586.71,68.76 587.07,75.65 587.43,79.51 587.79,77.70 588.14,73.67 588.50,69.41 588.85,65.58 589.21,61.89 589.56,59.16 589.91,57.77 590.26,57.85 590.61,59.32 590.95,61.70 591.30,64.34 591.64,65.46 591.99,63.92 592.33,60.94 592.67,58.00 593.01,55.79 593.35,54.46 593.68,53.87 594.02,53.92 594.35,54.51 594.69,55.49 595.02,56.75 595.35,58.38 595.68,60.46 596.01,63.21 596.34,66.97 596.66,72.73 596.99,83.46 597.31,90.00 597.64,82.46 597.96,72.87 598.28,68.09 598.60,65.65 598.92,64.76 599.24,65.08 599.56,66.39 599.87,68.41 600.19,70.64 600.50,72.89 600.81,73.79 601.12,72.03 601.43,69.69 601.74,67.30 602.05,65.33 602.36,63.71 602.67,62.51 602.97,61.84 603.28,61.56 603.58,61.53 603.88,61.75 604.19,62.44 604.49,63.98 604.79,66.60 605.09,70.31 605.38,75.43 605.68,78.07 605.98,76.09 606.27,73.34 606.57,71.56 606.86,71.41 607.15,73.04 607.45,77.22 607.74,83.57 608.03,88.96 608.32,87.44 608.60,82.56 608.89,79.04 609.18,77.92 609.46,79.29 609.75,83.89 610.03,90.48 610.32,98.79 610.60,108.87 610.88,122.43 611.16,127.41 611.44,127.42 611.72,127.43 612.00,116.45 612.27,112.71 612.55,115.15 612.83,126.28 613.10,127.47 613.38,124.99 613.65,105.71 613.92,95.78 614.19,90.64 614.46,88.19 614.73,86.37 615.00,82.52 615.27,76.91 615.54,71.82 615.81,69.28 616.07,68.12 616.34,68.41 616.61,70.22 616.87,74.03 617.13,80.52 617.40,87.48 617.66,93.84 617.92,101.47 618.18,115.39 618.44,121.32 618.70,92.66 618.96,75.09 619.22,66.65 619.47,61.72 619.73,59.05 619.99,57.89 620.24,58.04 620.49,59.40 620.75,61.83 621.00,65.11 621.25,68.51 621.51,71.49 621.76,74.28 622.01,76.15 622.26,76.46 622.51,75.08 622.75,72.52 623.00,70.64 623.25,69.08 623.50,68.23 623.74,68.36 623.99,69.70 624.23,72.57 624.48,80.25 624.72,93.38 624.96,121.44 625.20,127.90 625.45,99.12 625.69,86.30 625.93,79.80 626.17,76.22 626.41,74.35 626.65,73.64 626.88,73.83 627.12,74.87 627.36,76.65 627.59,79.51 627.83,84.13 628.06,90.97 628.30,100.48 628.53,112.85 628.77,126.13 629.00,127.02 629.23,113.50 629.46,97.88 629.69,85.34 629.92,76.02 630.15,70.57 630.38,68.03 630.61,67.18 630.84,68.09 631.07,71.11 631.30,78.96 631.52,93.26 631.75,99.57 631.97,84.07 632.20,72.67 632.42,68.23 632.65,66.13 632.87,65.79 633.09,66.93 633.32,69.61 633.54,73.66 633.76,80.76 633.98,89.68 634.20,102.49 634.42,125.97 634.64,128.07 634.86,102.51 635.08,89.72 635.30,82.44 635.51,78.11 635.73,75.20 635.95,72.81 636.16,71.07 636.38,69.37 636.59,68.28 636.81,68.41 637.02,70.33 637.23,75.59 637.45,86.52 637.66,88.90 637.87,75.73 638.08,67.41 638.30,62.72 638.51,60.13 638.72,59.47 638.93,59.91 639.14,61.01 639.34,62.55 639.55,64.64 639.76,67.83 639.97,73.29 640.17,86.87 640.38,96.04 640.59,79.24 640.79,68.05 641.00,62.47 641.20,59.38 641.41,58.16 641.61,58.71 641.82,61.04 642.02,65.40 642.22,72.44 642.42,88.92 642.62,118.54 642.83,116.26 643.03,100.60 643.23,96.73 643.43,99.77 643.63,108.85 643.83,120.41 644.03,118.63 644.22,112.57 644.42,112.40 644.62,119.74 644.82,126.17 645.01,107.51 645.21,89.41 645.41,78.19 645.60,71.71 645.80,68.51 645.99,66.55 646.19,65.53 646.38,65.51 646.57,66.17 646.77,67.54 646.96,69.83 647.15,73.63 647.34,83.08 647.54,99.40 647.73,111.00 647.92,84.41 648.11,69.30 648.30,61.85 648.49,56.91 648.68,53.86 648.87,52.43 649.06,52.57 649.24,54.41 649.43,58.26 649.62,64.92 649.81,77.91 649.99,113.55 650.18,97.71 650.37,79.05 650.55,71.88 650.74,68.90 650.92,66.43 651.11,64.11 651.29,62.10 651.47,61.00 651.66,61.24 651.84,62.91 652.02,65.52 652.21,67.32 652.39,66.46 652.57,63.95 652.75,61.99 652.93,61.54 653.11,62.70 653.29,64.96 653.47,66.44 653.65,65.24 653.83,62.89 654.01,61.64 654.19,62.57 654.37,66.30 654.55,73.42 654.73,82.04 654.90,72.98 655.08,66.05 655.26,62.81 655.43,63.02 655.61,66.98 655.79,79.04 655.96,128.99 656.14,82.28 656.31,66.97 656.49,61.59 656.66,60.43 656.83,62.19 657.01,66.99 657.18,76.14 657.35,89.20 657.53,83.48 657.70,74.88 657.87,72.39 658.04,73.65 658.21,80.31 658.38,92.23 658.55,105.65 658.73,103.76 658.90,97.07 659.07,97.42 659.23,105.91 659.40,124.59 659.57,127.42 659.74,115.01 659.91,116.34 660.08,129.14 660.25,116.72 660.41,90.84 660.58,76.81 660.75,70.60 660.91,67.91 661.08,66.95 661.25,67.43 661.41,69.16 661.58,71.99 661.74,77.57 661.91,84.75 662.07,85.64 662.24,79.95 662.40,74.26 662.56,71.95 662.73,71.71 662.89,73.40 663.05,77.80 663.22,83.43 663.38,86.59 663.54,84.06 663.70,77.60 663.86,71.91 664.03,68.28 664.19,65.83 664.35,64.75 664.51,65.23 664.67,67.66 664.83,72.25 664.99,80.10 665.15,83.58 665.31,78.05 665.46,72.90 665.62,71.48 665.78,72.83 665.94,78.74 666.10,91.95 666.26,122.90 666.41,124.88 666.57,98.63 666.73,88.94 666.88,84.34 667.04,81.92 667.19,80.12 667.35,78.08 667.51,76.10 667.66,74.16 667.82,73.29 667.97,73.42 668.13,75.47 668.28,80.23 668.43,84.46 668.59,78.67 668.74,70.06 668.89,64.47 669.05,61.10 669.20,59.76 669.35,60.27 669.50,63.08 669.66,68.90 669.81,82.47 669.96,124.00 670.11,101.02 670.26,80.55 670.41,73.32 670.56,71.44 670.71,70.82 670.86,70.14 671.01,69.41 671.16,69.29 671.31,70.42 671.46,73.52 671.61,81.91 671.76,97.54 671.91,129.56 672.06,124.68 672.20,108.94 672.35,108.81 672.50,120.39 672.65,129.59 672.79,128.79 672.94,122.80 673.09,128.53 673.23,119.44 673.38,97.63 673.53,84.05 673.67,75.68 673.82,71.60 673.96,69.31 674.11,67.78 674.25,66.56 674.40,65.31 674.54,64.94 674.69,66.11 674.83,69.48 674.97,75.94 675.12,81.97 675.26,73.18 675.40,65.89 675.55,61.57 675.69,60.12 675.83,61.54 675.97,66.39 676.12,78.11 676.26,94.89 676.40,72.63 676.54,62.98 676.68,58.08 676.82,55.88 676.96,56.24 677.11,59.06 677.25,64.72 677.39,74.44 677.53,101.21 677.67,129.76 677.81,107.72 677.94,108.24 678.08,129.78 678.22,123.43 678.36,99.09 678.50,90.58 678.64,89.90 678.78,93.52 678.91,92.02 679.05,82.10 679.19,73.94 679.33,70.91 679.46,70.50 679.60,72.48 679.74,76.42 679.88,78.58 680.01,74.28 680.15,69.92 680.28,66.77 680.42,65.28 680.56,65.52 680.69,67.31 680.83,70.90 680.96,78.31 681.10,95.16 681.23,127.83 681.36,99.15 681.50,84.84 681.63,80.33 681.77,82.59 681.90,93.64 682.03,124.62 682.17,102.66 682.30,82.42 682.43,73.59 682.57,70.48" fill="none" stroke="#0072bd" stroke-width="1.4" stroke-linejoin="round" clip-path="url(#ct)"/>
<polyline points="53.95,90.00 120.18,68.50 158.92,53.60 186.41,42.00 207.73,37.00 225.15,41.40 239.88,53.00 252.63,97.00 263.89,52.90 273.95,46.80 283.06,52.90 291.37,81.20 299.02,55.40 306.10,43.10 312.69,42.30 318.86,46.80 324.65,44.30 330.11,39.40 335.28,38.20 340.18,36.90 344.84,24.60 349.29,12.30 353.53,4.90 357.60,3.70 361.50,6.20 365.25,17.20 368.85,32.00 372.33,46.80 375.68,46.80 378.92,54.20 382.05,60.30 385.09,62.80 388.03,61.50 390.88,66.50 393.65,110.00 396.34,54.70 398.96,46.40 401.51,47.20 403.99,62.60 406.41,56.70 408.77,44.90 411.07,39.90 413.32,50.80 415.51,74.40 417.66,46.80 419.76,22.00 421.82,12.20 423.83,10.30 425.80,12.80 427.73,21.70 429.62,37.50 431.47,59.20 433.29,51.70 435.08,59.20 436.83,65.10 438.55,55.20 440.25,47.30 441.91,52.30 443.54,65.10 445.15,68.50 446.73,56.13 448.28,58.65 449.81,89.97 451.31,71.01 452.79,57.09 454.25,51.41 455.69,50.25 457.11,56.59 458.50,70.94 459.88,58.68 461.23,52.82 462.57,52.51 463.88,53.54 465.18,55.22 466.47,60.65 467.73,76.99 468.98,121.32 470.21,83.40 471.43,70.02 472.63,64.55 473.82,61.02 474.99,59.12 476.15,60.48 477.29,65.09 478.43,73.45 479.54,88.15 480.65,121.74 481.74,75.72 482.82,63.88 483.89,64.22 484.94,69.88 485.99,65.19 487.02,58.99 488.04,58.40 489.05,64.13 490.05,74.70 491.04,61.68 492.02,54.40 492.99,52.54 493.95,54.36 494.90,59.37 495.85,70.24 496.78,88.01 497.70,68.05 498.62,60.33 499.52,60.16 500.42,68.70 501.31,105.85 502.19,71.95 503.06,61.26 503.92,61.26 504.78,68.74 505.63,90.27 506.47,99.12 507.31,104.99 508.13,100.70 508.95,73.62 509.77,63.44 510.57,60.55 511.37,59.08 512.17,56.85 512.95,54.66 513.73,55.02 514.51,59.67 515.27,72.78 516.04,113.22 516.79,87.77 517.54,76.90 518.28,75.49 519.02,72.52 519.75,69.04 520.48,71.69 521.20,84.52 521.92,89.98 522.63,70.59 523.33,64.55 524.03,66.76 524.73,88.93 525.42,90.48 526.10,61.40 526.78,53.52 527.46,51.15 528.13,52.62 528.79,57.37 529.45,64.83 530.11,75.52 530.76,88.74 531.41,90.46 532.05,69.15 532.69,59.35 533.33,54.22 533.96,51.89 534.59,51.61 535.21,52.77 535.83,55.15 536.44,58.20 537.05,61.67 537.66,65.63 538.26,70.42 538.86,75.22 539.46,75.21 540.05,70.66 540.63,66.60 541.22,63.77 541.80,61.13 542.38,58.61 542.95,56.68 543.52,56.01 544.09,56.58 544.65,59.71 545.21,66.72 545.77,86.25 546.32,89.50 546.87,68.87 547.42,62.41 547.97,60.28 548.51,61.18 549.05,64.73 549.58,71.08 550.11,78.16 550.64,79.29 551.17,76.48 551.69,72.06 552.21,67.51 552.73,64.78 553.25,64.06 553.76,66.01 554.27,71.00 554.78,75.85 555.28,70.61 555.78,64.60 556.28,61.41 556.78,61.47 557.27,65.19 557.76,74.57 558.25,96.22 558.74,124.51 559.22,109.00 559.70,99.88 560.18,97.24 560.66,91.06 561.13,81.74 561.60,73.16 562.07,66.73 562.54,62.71 563.00,59.81 563.47,58.11 563.93,57.77 564.39,59.00 564.84,61.91 565.30,66.40 565.75,72.52 566.20,77.55 566.64,78.58 567.09,78.46 567.53,80.70 567.97,84.30 568.41,82.86 568.85,75.80 569.29,69.63 569.72,67.73 570.15,68.45 570.58,73.35 571.01,84.27 571.43,95.94 571.86,87.88 572.28,74.74 572.70,67.30 573.12,63.64 573.53,61.25 573.95,59.39 574.36,57.57 574.77,55.89 575.18,54.80 575.59,54.77 575.99,56.49 576.40,60.29 576.80,67.16 577.20,83.86 577.60,98.42 578.00,78.80 578.39,68.11 578.79,63.86 579.18,61.46 579.57,59.99 579.96,58.97 580.35,58.46 580.73,58.46 581.12,59.18 581.50,60.87 581.88,63.75 582.26,67.93 582.64,74.21 583.02,80.04 583.39,80.82 583.77,77.97 584.14,74.98 584.51,73.12 584.88,72.95 585.25,74.37 585.61,77.24 585.98,81.87 586.34,89.32 586.71,101.19 587.07,121.66 587.43,121.81 587.79,101.81 588.14,91.32 588.50,86.57 588.85,86.93 589.21,90.39 589.56,96.06 589.91,101.99 590.26,104.98 590.61,102.65 590.95,94.94 591.30,85.56 591.64,77.08 591.99,70.73 592.33,68.05 592.67,67.43 593.01,69.07 593.35,74.22 593.68,82.76 594.02,86.20 594.35,78.27 594.69,70.12 595.02,66.83 595.35,65.64 595.68,66.30 596.01,68.70 596.34,73.89 596.66,81.91 596.99,91.20 597.31,102.32 597.64,118.95 597.96,125.90 598.28,111.08 598.60,89.61 598.92,76.46 599.24,68.91 599.56,65.55 599.87,64.19 600.19,64.74 600.50,67.72 600.81,74.96 601.12,86.77 601.43,87.69 601.74,76.18 602.05,68.42 602.36,65.04 602.67,63.79 602.97,64.34 603.28,66.64 603.58,70.93 603.88,80.99 604.19,97.52 604.49,126.13 604.79,126.14 605.09,112.13 605.38,111.06 605.68,118.60 605.98,106.92 606.27,85.75 606.57,72.16 606.86,65.81 607.15,62.05 607.45,60.00 607.74,59.43 608.03,60.25 608.32,62.59 608.60,66.73 608.89,74.09 609.18,86.08 609.46,88.64 609.75,77.62 610.03,69.53 610.32,66.23 610.60,65.08 610.88,65.63 611.16,67.33 611.44,69.40 611.72,70.04 612.00,68.92 612.27,67.57 612.55,67.41 612.83,69.23 613.10,75.19 613.38,87.90 613.65,103.83 613.92,95.40 614.19,83.67 614.46,78.70 614.73,78.22 615.00,81.75 615.27,89.53 615.54,98.36 615.81,97.48 616.07,138.00 616.34,88.56 616.61,92.42 616.87,102.75 617.13,108.65 617.40,91.83 617.66,77.63 617.92,69.44 618.18,65.84 618.44,63.59 618.70,62.36 618.96,61.95 619.22,62.31 619.47,63.44 619.73,65.36 619.99,68.22 620.24,72.67 620.49,80.97 620.75,91.45 621.00,95.32 621.25,84.27 621.51,72.77 621.76,66.64 622.01,62.67 622.26,60.07 622.51,58.60 622.75,58.09 623.00,58.42 623.25,59.69 623.50,62.20 623.74,66.63 623.99,75.83 624.23,97.77 624.48,175.00 624.72,76.32 624.96,67.16 625.20,63.46 625.45,62.35 625.69,62.98 625.93,64.45 626.17,64.03 626.41,60.82 626.65,57.14 626.88,54.65 627.12,53.85 627.36,54.89 627.59,57.96 627.83,63.38 628.06,71.20 628.30,80.56 628.53,77.58 628.77,71.69 629.00,69.71 629.23,69.46 629.46,69.64 629.69,68.90 629.92,67.25 630.15,65.79 630.38,65.55 630.61,66.74 630.84,69.30 631.07,73.35 631.30,78.72 631.52,82.29 631.75,83.25 631.97,81.67 632.20,77.75 632.42,73.00 632.65,69.99 632.87,68.59 633.09,68.74 633.32,70.69 633.54,71.81 633.76,69.68 633.98,65.57 634.20,62.02 634.42,60.00 634.64,59.44 634.86,60.57 635.08,63.48 635.30,68.21 635.51,75.78 635.73,85.31 635.95,88.67 636.16,85.14 636.38,79.56 636.59,73.64 636.81,69.69 637.02,67.53 637.23,67.13 637.45,68.91 637.66,73.80 637.87,83.35 638.08,86.28 638.30,77.06 638.51,69.84 638.72,67.45 638.93,67.61 639.14,70.14 639.34,76.34 639.55,85.16 639.76,88.17 639.97,82.26 640.17,76.91 640.38,75.46 640.59,77.77 640.79,83.73 641.00,92.57 641.20,99.40 641.41,99.79 641.61,96.57 641.82,95.93 642.02,99.29 642.22,102.07 642.42,92.90 642.62,79.44 642.83,70.06 643.03,65.15 643.23,62.06 643.43,60.51 643.63,60.37 643.83,61.31 644.03,63.25 644.22,66.01 644.42,68.88 644.62,70.81 644.82,71.19 645.01,70.37 645.21,68.96 645.41,67.79 645.60,67.16 645.80,67.48 645.99,69.28 646.19,73.88 646.38,86.90 646.57,118.29 646.77,111.15 646.96,86.85 647.15,77.69 647.34,75.44 647.54,78.93 647.73,89.62 647.92,116.72 648.11,120.54 648.30,93.39 648.49,84.48 648.68,84.00 648.87,91.70 649.06,117.30 649.24,118.82 649.43,86.28 649.62,72.71 649.81,67.83 649.99,65.51 650.18,64.61 650.37,64.47 650.55,64.49 650.74,64.33 650.92,64.08 651.11,63.99 651.29,64.77 651.47,66.96 651.66,71.28 651.84,82.40 652.02,106.57 652.21,108.52 652.39,83.20 652.57,71.22 652.75,66.49 652.93,64.18 653.11,63.83 653.29,65.28 653.47,68.52 653.65,73.41 653.83,78.72 654.01,76.94 654.19,71.89 654.37,69.43 654.55,69.16 654.73,70.94 654.90,76.08 655.08,86.30 655.26,102.79 655.43,114.87 655.61,97.81 655.79,83.66 655.96,74.14 656.14,69.40 656.31,67.01 656.49,66.55 656.66,68.43 656.83,73.21 657.01,85.35 657.18,97.01 657.35,87.37 657.53,76.94 657.70,73.07 657.87,74.89 658.04,83.40 658.21,101.75 658.38,96.97 658.55,76.59 658.73,67.77 658.90,63.82 659.07,62.36 659.23,63.00 659.40,65.72 659.57,70.91 659.74,82.37 659.91,100.31 660.08,101.77 660.25,88.01 660.41,79.99 660.58,76.61 660.75,76.87 660.91,80.55 661.08,88.33 661.25,102.25 661.41,115.90 661.58,99.39 661.74,84.99 661.91,76.59 662.07,72.40 662.24,71.52 662.40,72.69 662.56,77.46 662.73,84.83 662.89,88.75 663.05,81.87 663.22,72.66 663.38,68.07 663.54,65.39 663.70,64.40 663.86,64.82 664.03,66.42 664.19,69.06 664.35,72.70 664.51,79.95 664.67,91.20 664.83,114.27 664.99,128.27 665.15,96.53 665.31,81.96 665.46,75.28 665.62,73.95 665.78,77.56 665.94,85.01 666.10,85.21 666.26,72.87 666.41,65.43 666.57,60.85 666.73,58.63 666.88,58.44 667.04,60.14 667.19,63.41 667.35,67.02 667.51,68.43 667.66,66.78 667.82,64.93 667.97,64.84 668.13,67.30 668.28,73.04 668.43,87.72 668.59,94.93 668.74,82.35 668.89,74.21 669.05,72.18 669.20,72.93 669.35,73.92 669.50,71.45 669.66,67.41 669.81,64.20 669.96,62.81 670.11,63.58 670.26,66.73 670.41,72.22 670.56,82.58 670.71,89.45 670.86,85.49 671.01,79.41 671.16,75.56 671.31,73.98 671.46,74.50 671.61,77.82 671.76,86.01 671.91,105.79 672.06,128.52 672.20,88.80 672.35,72.78 672.50,66.93 672.65,64.03 672.79,63.15 672.94,64.24 673.09,66.96 673.23,70.51 673.38,73.45 673.53,75.58 673.67,77.37 673.82,82.79 673.96,97.43 674.11,128.60 674.25,97.69 674.40,79.27 674.54,72.30 674.69,71.44 674.83,74.70 674.97,85.19 675.12,101.40 675.26,102.67 675.40,91.88 675.55,87.61 675.69,90.38 675.83,99.74 675.97,99.49 676.12,85.15 676.26,74.47 676.40,70.03 676.54,68.44 676.68,69.02 676.82,71.83 676.96,78.96 677.11,92.00 677.25,100.96 677.39,84.19 677.53,71.03 677.67,64.51 677.81,60.18 677.94,57.75 678.08,57.12 678.22,58.40 678.36,61.85 678.50,67.81 678.64,77.69 678.78,87.78 678.91,85.47 679.05,81.83 679.19,82.92 679.33,84.08 679.46,76.05 679.60,67.68 679.74,61.93 679.88,58.46 680.01,57.63 680.15,59.59 680.28,65.11 680.42,78.36 680.56,104.98 680.69,76.66 680.83,66.79 680.96,63.95 681.10,65.23 681.23,70.25 681.36,77.37 681.50,72.71 681.63,65.70 681.77,61.44 681.90,59.94 682.03,60.52 682.17,62.31 682.30,64.10 682.43,64.76 682.57,64.39" fill="none" stroke="#12851a" stroke-width="1.4" stroke-linejoin="round" clip-path="url(#ct)"/>
<line x1="71.37" y1="166.5" x2="71.37" y2="163.0" stroke="#262626" stroke-width="1"/>
<line x1="71.37" y1="1.3" x2="71.37" y2="4.8" stroke="#262626" stroke-width="1"/>
<line x1="88.79" y1="166.5" x2="88.79" y2="163.0" stroke="#262626" stroke-width="1"/>
<line x1="88.79" y1="1.3" x2="88.79" y2="4.8" stroke="#262626" stroke-width="1"/>
<line x1="103.52" y1="166.5" x2="103.52" y2="163.0" stroke="#262626" stroke-width="1"/>
<line x1="103.52" y1="1.3" x2="103.52" y2="4.8" stroke="#262626" stroke-width="1"/>
<line x1="116.28" y1="166.5" x2="116.28" y2="163.0" stroke="#262626" stroke-width="1"/>
<line x1="116.28" y1="1.3" x2="116.28" y2="4.8" stroke="#262626" stroke-width="1"/>
<line x1="127.53" y1="166.5" x2="127.53" y2="163.0" stroke="#262626" stroke-width="1"/>
<line x1="127.53" y1="1.3" x2="127.53" y2="4.8" stroke="#262626" stroke-width="1"/>
<line x1="137.60" y1="166.5" x2="137.60" y2="160.0" stroke="#262626" stroke-width="1"/>
<line x1="137.60" y1="1.3" x2="137.60" y2="7.8" stroke="#262626" stroke-width="1"/>
<line x1="203.83" y1="166.5" x2="203.83" y2="163.0" stroke="#262626" stroke-width="1"/>
<line x1="203.83" y1="1.3" x2="203.83" y2="4.8" stroke="#262626" stroke-width="1"/>
<line x1="242.57" y1="166.5" x2="242.57" y2="163.0" stroke="#262626" stroke-width="1"/>
<line x1="242.57" y1="1.3" x2="242.57" y2="4.8" stroke="#262626" stroke-width="1"/>
<line x1="270.05" y1="166.5" x2="270.05" y2="163.0" stroke="#262626" stroke-width="1"/>
<line x1="270.05" y1="1.3" x2="270.05" y2="4.8" stroke="#262626" stroke-width="1"/>
<line x1="291.37" y1="166.5" x2="291.37" y2="163.0" stroke="#262626" stroke-width="1"/>
<line x1="291.37" y1="1.3" x2="291.37" y2="4.8" stroke="#262626" stroke-width="1"/>
<line x1="308.79" y1="166.5" x2="308.79" y2="163.0" stroke="#262626" stroke-width="1"/>
<line x1="308.79" y1="1.3" x2="308.79" y2="4.8" stroke="#262626" stroke-width="1"/>
<line x1="323.52" y1="166.5" x2="323.52" y2="163.0" stroke="#262626" stroke-width="1"/>
<line x1="323.52" y1="1.3" x2="323.52" y2="4.8" stroke="#262626" stroke-width="1"/>
<line x1="336.28" y1="166.5" x2="336.28" y2="163.0" stroke="#262626" stroke-width="1"/>
<line x1="336.28" y1="1.3" x2="336.28" y2="4.8" stroke="#262626" stroke-width="1"/>
<line x1="347.53" y1="166.5" x2="347.53" y2="163.0" stroke="#262626" stroke-width="1"/>
<line x1="347.53" y1="1.3" x2="347.53" y2="4.8" stroke="#262626" stroke-width="1"/>
<line x1="357.60" y1="166.5" x2="357.60" y2="160.0" stroke="#262626" stroke-width="1"/>
<line x1="357.60" y1="1.3" x2="357.60" y2="7.8" stroke="#262626" stroke-width="1"/>
<line x1="423.83" y1="166.5" x2="423.83" y2="163.0" stroke="#262626" stroke-width="1"/>
<line x1="423.83" y1="1.3" x2="423.83" y2="4.8" stroke="#262626" stroke-width="1"/>
<line x1="462.57" y1="166.5" x2="462.57" y2="163.0" stroke="#262626" stroke-width="1"/>
<line x1="462.57" y1="1.3" x2="462.57" y2="4.8" stroke="#262626" stroke-width="1"/>
<line x1="490.05" y1="166.5" x2="490.05" y2="163.0" stroke="#262626" stroke-width="1"/>
<line x1="490.05" y1="1.3" x2="490.05" y2="4.8" stroke="#262626" stroke-width="1"/>
<line x1="511.37" y1="166.5" x2="511.37" y2="163.0" stroke="#262626" stroke-width="1"/>
<line x1="511.37" y1="1.3" x2="511.37" y2="4.8" stroke="#262626" stroke-width="1"/>
<line x1="528.79" y1="166.5" x2="528.79" y2="163.0" stroke="#262626" stroke-width="1"/>
<line x1="528.79" y1="1.3" x2="528.79" y2="4.8" stroke="#262626" stroke-width="1"/>
<line x1="543.52" y1="166.5" x2="543.52" y2="163.0" stroke="#262626" stroke-width="1"/>
<line x1="543.52" y1="1.3" x2="543.52" y2="4.8" stroke="#262626" stroke-width="1"/>
<line x1="556.28" y1="166.5" x2="556.28" y2="163.0" stroke="#262626" stroke-width="1"/>
<line x1="556.28" y1="1.3" x2="556.28" y2="4.8" stroke="#262626" stroke-width="1"/>
<line x1="567.53" y1="166.5" x2="567.53" y2="163.0" stroke="#262626" stroke-width="1"/>
<line x1="567.53" y1="1.3" x2="567.53" y2="4.8" stroke="#262626" stroke-width="1"/>
<line x1="577.60" y1="166.5" x2="577.60" y2="160.0" stroke="#262626" stroke-width="1"/>
<line x1="577.60" y1="1.3" x2="577.60" y2="7.8" stroke="#262626" stroke-width="1"/>
<line x1="643.83" y1="166.5" x2="643.83" y2="163.0" stroke="#262626" stroke-width="1"/>
<line x1="643.83" y1="1.3" x2="643.83" y2="4.8" stroke="#262626" stroke-width="1"/>
<line x1="682.57" y1="166.5" x2="682.57" y2="163.0" stroke="#262626" stroke-width="1"/>
<line x1="682.57" y1="1.3" x2="682.57" y2="4.8" stroke="#262626" stroke-width="1"/>
<line x1="53.5" y1="161.60" x2="57.0" y2="161.60" stroke="#262626" stroke-width="1"/>
<line x1="682.3" y1="161.60" x2="678.8" y2="161.60" stroke="#262626" stroke-width="1"/>
<line x1="53.5" y1="135.60" x2="57.0" y2="135.60" stroke="#262626" stroke-width="1"/>
<line x1="682.3" y1="135.60" x2="678.8" y2="135.60" stroke="#262626" stroke-width="1"/>
<line x1="53.5" y1="109.60" x2="57.0" y2="109.60" stroke="#262626" stroke-width="1"/>
<line x1="682.3" y1="109.60" x2="678.8" y2="109.60" stroke="#262626" stroke-width="1"/>
<line x1="53.5" y1="83.60" x2="57.0" y2="83.60" stroke="#262626" stroke-width="1"/>
<line x1="682.3" y1="83.60" x2="678.8" y2="83.60" stroke="#262626" stroke-width="1"/>
<line x1="53.5" y1="57.60" x2="60.0" y2="57.60" stroke="#262626" stroke-width="1"/>
<line x1="682.3" y1="57.60" x2="675.8" y2="57.60" stroke="#262626" stroke-width="1"/>
<line x1="53.5" y1="31.60" x2="57.0" y2="31.60" stroke="#262626" stroke-width="1"/>
<line x1="682.3" y1="31.60" x2="678.8" y2="31.60" stroke="#262626" stroke-width="1"/>
<line x1="53.5" y1="5.60" x2="57.0" y2="5.60" stroke="#262626" stroke-width="1"/>
<line x1="682.3" y1="5.60" x2="678.8" y2="5.60" stroke="#262626" stroke-width="1"/>
<rect x="53.5" y="1.3" width="628.80" height="165.20" fill="none" stroke="#262626" stroke-width="1"/>
<line x1="54.29" y1="194.5" x2="54.29" y2="351.8" stroke="#c8c8c8" stroke-width="0.6" stroke-dasharray="0.8 1.7"/>
<line x1="75.50" y1="194.5" x2="75.50" y2="351.8" stroke="#c8c8c8" stroke-width="0.6" stroke-dasharray="0.8 1.7"/>
<line x1="92.84" y1="194.5" x2="92.84" y2="351.8" stroke="#c8c8c8" stroke-width="0.6" stroke-dasharray="0.8 1.7"/>
<line x1="107.49" y1="194.5" x2="107.49" y2="351.8" stroke="#c8c8c8" stroke-width="0.6" stroke-dasharray="0.8 1.7"/>
<line x1="120.19" y1="194.5" x2="120.19" y2="351.8" stroke="#c8c8c8" stroke-width="0.6" stroke-dasharray="0.8 1.7"/>
<line x1="131.38" y1="194.5" x2="131.38" y2="351.8" stroke="#c8c8c8" stroke-width="0.6" stroke-dasharray="0.8 1.7"/>
<line x1="207.30" y1="194.5" x2="207.30" y2="351.8" stroke="#c8c8c8" stroke-width="0.6" stroke-dasharray="0.8 1.7"/>
<line x1="245.84" y1="194.5" x2="245.84" y2="351.8" stroke="#c8c8c8" stroke-width="0.6" stroke-dasharray="0.8 1.7"/>
<line x1="273.19" y1="194.5" x2="273.19" y2="351.8" stroke="#c8c8c8" stroke-width="0.6" stroke-dasharray="0.8 1.7"/>
<line x1="294.40" y1="194.5" x2="294.40" y2="351.8" stroke="#c8c8c8" stroke-width="0.6" stroke-dasharray="0.8 1.7"/>
<line x1="311.74" y1="194.5" x2="311.74" y2="351.8" stroke="#c8c8c8" stroke-width="0.6" stroke-dasharray="0.8 1.7"/>
<line x1="326.39" y1="194.5" x2="326.39" y2="351.8" stroke="#c8c8c8" stroke-width="0.6" stroke-dasharray="0.8 1.7"/>
<line x1="339.09" y1="194.5" x2="339.09" y2="351.8" stroke="#c8c8c8" stroke-width="0.6" stroke-dasharray="0.8 1.7"/>
<line x1="350.28" y1="194.5" x2="350.28" y2="351.8" stroke="#c8c8c8" stroke-width="0.6" stroke-dasharray="0.8 1.7"/>
<line x1="426.20" y1="194.5" x2="426.20" y2="351.8" stroke="#c8c8c8" stroke-width="0.6" stroke-dasharray="0.8 1.7"/>
<line x1="464.74" y1="194.5" x2="464.74" y2="351.8" stroke="#c8c8c8" stroke-width="0.6" stroke-dasharray="0.8 1.7"/>
<line x1="492.09" y1="194.5" x2="492.09" y2="351.8" stroke="#c8c8c8" stroke-width="0.6" stroke-dasharray="0.8 1.7"/>
<line x1="513.30" y1="194.5" x2="513.30" y2="351.8" stroke="#c8c8c8" stroke-width="0.6" stroke-dasharray="0.8 1.7"/>
<line x1="530.64" y1="194.5" x2="530.64" y2="351.8" stroke="#c8c8c8" stroke-width="0.6" stroke-dasharray="0.8 1.7"/>
<line x1="545.29" y1="194.5" x2="545.29" y2="351.8" stroke="#c8c8c8" stroke-width="0.6" stroke-dasharray="0.8 1.7"/>
<line x1="557.99" y1="194.5" x2="557.99" y2="351.8" stroke="#c8c8c8" stroke-width="0.6" stroke-dasharray="0.8 1.7"/>
<line x1="569.18" y1="194.5" x2="569.18" y2="351.8" stroke="#c8c8c8" stroke-width="0.6" stroke-dasharray="0.8 1.7"/>
<line x1="645.10" y1="194.5" x2="645.10" y2="351.8" stroke="#c8c8c8" stroke-width="0.6" stroke-dasharray="0.8 1.7"/>
<line x1="683.64" y1="194.5" x2="683.64" y2="351.8" stroke="#c8c8c8" stroke-width="0.6" stroke-dasharray="0.8 1.7"/>
<line x1="53.8" y1="330.40" x2="683.8" y2="330.40" stroke="#c8c8c8" stroke-width="0.6" stroke-dasharray="0.8 1.7"/>
<line x1="53.8" y1="309.00" x2="683.8" y2="309.00" stroke="#c8c8c8" stroke-width="0.6" stroke-dasharray="0.8 1.7"/>
<line x1="53.8" y1="287.60" x2="683.8" y2="287.60" stroke="#c8c8c8" stroke-width="0.6" stroke-dasharray="0.8 1.7"/>
<line x1="53.8" y1="266.20" x2="683.8" y2="266.20" stroke="#c8c8c8" stroke-width="0.6" stroke-dasharray="0.8 1.7"/>
<line x1="53.8" y1="223.40" x2="683.8" y2="223.40" stroke="#c8c8c8" stroke-width="0.6" stroke-dasharray="0.8 1.7"/>
<line x1="53.8" y1="202.00" x2="683.8" y2="202.00" stroke="#c8c8c8" stroke-width="0.6" stroke-dasharray="0.8 1.7"/>
<line x1="141.40" y1="194.5" x2="141.40" y2="351.8" stroke="#d9d9d9" stroke-width="0.8"/>
<line x1="360.30" y1="194.5" x2="360.30" y2="351.8" stroke="#d9d9d9" stroke-width="0.8"/>
<line x1="579.20" y1="194.5" x2="579.20" y2="351.8" stroke="#d9d9d9" stroke-width="0.8"/>
<line x1="53.8" y1="244.80" x2="683.8" y2="244.80" stroke="#d9d9d9" stroke-width="0.8"/>
<polyline points="58.17,234.70 124.07,235.90 162.61,234.70 189.96,237.10 211.18,237.90 228.51,240.30 243.16,251.20 255.86,240.80 267.06,231.00 277.07,228.50 286.13,237.10 294.40,261.80 302.01,233.40 309.06,226.00 315.62,229.00 321.75,241.30 327.52,229.50 332.95,220.60 338.09,223.60 342.97,242.80 347.61,219.10 352.03,205.80 356.25,198.40 360.30,196.40 364.18,198.40 367.91,205.80 371.50,220.60 374.95,306.40 378.29,229.50 381.51,226.90 384.63,234.80 387.65,277.10 390.57,241.70 393.41,234.80 396.17,239.70 398.85,255.50 401.45,244.60 403.99,241.70 406.46,247.60 408.86,257.40 411.21,251.50 413.50,252.50 415.74,255.00 417.92,244.30 420.06,222.20 422.15,215.00 424.19,211.00 426.20,210.00 428.16,212.00 430.08,220.00 431.96,236.00 433.80,253.00 435.62,240.70 437.39,240.70 439.14,249.30 440.85,271.40 442.53,250.50 444.19,244.30 445.81,249.30 447.41,266.50 448.98,254.20 450.53,248.00 452.05,250.50 453.54,261.20 455.02,251.88 456.47,250.66 457.90,249.64 459.31,257.57 460.70,243.70 462.06,236.98 463.41,235.19 464.74,235.27 466.05,235.38 467.35,237.04 468.62,243.56 469.88,261.49 471.12,247.97 472.35,247.03 473.56,251.03 474.76,262.97 475.94,262.48 477.11,258.55 478.26,258.87 479.40,261.77 480.52,255.85 481.63,251.17 482.73,245.89 483.82,247.31 484.89,256.06 485.96,262.25 487.01,264.99 488.04,273.26 489.07,256.64 490.09,256.79 491.10,266.52 492.09,279.39 493.08,262.78 494.05,257.30 495.02,258.33 495.97,271.29 496.92,269.03 497.85,260.14 498.78,260.38 499.70,285.50 500.61,263.19 501.51,255.82 502.40,260.47 503.29,283.58 504.16,269.39 505.03,267.13 505.89,265.69 506.75,267.20 507.59,267.23 508.43,257.55 509.26,253.54 510.08,256.80 510.90,264.72 511.71,269.31 512.51,270.15 513.30,264.46 514.09,325.00 514.88,253.28 515.65,254.29 516.42,255.20 517.19,255.31 517.94,261.34 518.69,273.57 519.44,277.02 520.18,270.02 520.91,271.62 521.64,274.60 522.37,276.56 523.08,270.59 523.79,272.53 524.50,260.26 525.20,248.54 525.90,243.64 526.59,245.65 527.28,255.26 527.96,269.70 528.64,260.03 529.31,260.84 529.97,273.44 530.64,270.73 531.30,259.73 531.95,256.98 532.60,252.84 533.24,248.66 533.88,247.86 534.52,252.27 535.15,262.38 535.78,271.76 536.40,263.31 537.02,262.40 537.64,266.86 538.25,276.79 538.85,276.13 539.46,273.84 540.06,273.34 540.65,269.68 541.25,259.24 541.83,253.33 542.42,251.11 543.00,252.63 543.58,256.92 544.15,266.06 544.72,278.01 545.29,294.46 545.86,279.41 546.42,275.76 546.97,274.94 547.53,272.22 548.08,266.00 548.63,265.93 549.17,270.33 549.71,275.02 550.25,269.14 550.79,266.66 551.32,268.42 551.85,270.42 552.38,265.15 552.90,261.70 553.42,261.62 553.94,265.05 554.46,270.57 554.97,276.49 555.48,281.78 555.98,292.76 556.49,280.85 556.99,278.60 557.49,281.08 557.99,288.23 558.48,278.11 558.97,273.73 559.46,269.52 559.95,265.00 560.43,262.33 560.91,263.68 561.39,270.41 561.87,284.84 562.34,280.97 562.81,274.89 563.28,270.98 563.75,267.57 564.21,263.56 564.68,263.31 565.14,268.43 565.60,285.65 566.05,284.18 566.51,273.41 566.96,267.09 567.41,266.13 567.85,266.03 568.30,265.56 568.74,263.67 569.18,262.44 569.62,261.39 570.06,262.77 570.49,269.25 570.93,288.11 571.36,282.77 571.79,268.57 572.22,261.07 572.64,258.48 573.06,258.52 573.49,261.51 573.91,266.06 574.32,266.78 574.74,262.31 575.15,259.51 575.57,259.06 575.98,261.23 576.39,265.82 576.79,276.89 577.20,286.16 577.60,275.88 578.00,263.59 578.40,260.59 578.80,262.04 579.20,268.68 579.60,278.01 579.99,280.88 580.38,274.63 580.77,267.43 581.16,262.20 581.55,260.13 581.93,260.61 582.32,264.22 582.70,272.64 583.08,283.47 583.46,280.09 583.84,267.53 584.21,260.92 584.59,258.37 584.96,258.53 585.34,259.84 585.71,259.06 586.08,256.36 586.44,253.70 586.81,252.74 587.17,253.81 587.54,257.84 587.90,266.62 588.26,281.63 588.62,274.35 588.98,266.95 589.34,265.28 589.69,268.84 590.04,275.27 590.40,279.35 590.75,274.02 591.10,265.71 591.45,260.84 591.80,258.83 592.14,259.05 592.49,261.46 592.83,266.05 593.17,275.00 593.51,281.32 593.85,273.80 594.19,264.04 594.53,260.66 594.87,261.24 595.20,266.46 595.54,276.50 595.87,274.29 596.20,262.77 596.53,257.01 596.86,254.55 597.19,255.42 597.52,259.78 597.84,270.57 598.17,282.82 598.49,272.83 598.82,264.13 599.14,262.36 599.46,264.19 599.78,273.15 600.10,289.99 600.41,284.02 600.73,266.04 601.05,259.99 601.36,257.96 601.67,258.76 601.98,261.80 602.30,268.64 602.61,284.33 602.92,299.97 603.22,272.14 603.53,262.17 603.84,258.34 604.14,257.73 604.45,259.80 604.75,266.25 605.05,283.77 605.35,292.93 605.65,268.79 605.95,261.08 606.25,258.96 606.55,260.14 606.85,264.27 607.14,272.92 607.44,284.41 607.73,303.16 608.02,291.24 608.32,286.64 608.61,281.40 608.90,277.26 609.19,275.16 609.47,280.07 609.76,291.51 610.05,284.97 610.33,266.90 610.62,260.78 610.90,259.55 611.19,262.42 611.47,268.09 611.75,268.16 612.03,260.84 612.31,255.61 612.59,252.92 612.87,252.55 613.15,253.47 613.42,254.16 613.70,253.34 613.98,252.14 614.25,251.96 614.52,253.99 614.80,258.91 615.07,270.43 615.34,292.37 615.61,272.69 615.88,259.76 616.15,255.10 616.42,253.81 616.68,254.92 616.95,257.47 617.22,260.01 617.48,260.26 617.75,257.61 618.01,253.65 618.27,250.13 618.54,247.42 618.80,245.62 619.06,244.71 619.32,244.80 619.58,245.84 619.84,247.57 620.09,249.75 620.35,252.25 620.61,254.72 620.86,256.65 621.12,257.46 621.37,258.14 621.63,260.07 621.88,265.04 622.13,278.44 622.38,288.45 622.64,267.88 622.89,257.39 623.14,252.20 623.39,250.33 623.63,251.25 623.88,254.91 624.13,260.73 624.38,264.75 624.62,260.83 624.87,255.78 625.11,253.03 625.36,253.02 625.60,254.95 625.84,257.67 626.08,259.02 626.33,258.99 626.57,259.27 626.81,261.10 627.05,264.57 627.29,267.41 627.52,263.81 627.76,259.25 628.00,256.75 628.24,257.25 628.47,260.88 628.71,268.17 628.94,272.18 629.18,265.05 629.41,259.73 629.65,257.46 629.88,257.68 630.11,260.56 630.34,266.82 630.57,279.53 630.80,289.69 631.03,290.42 631.26,291.30 631.49,298.36 631.72,293.02 631.95,289.87 632.17,288.14 632.40,288.21 632.63,286.09 632.85,289.21 633.08,294.98 633.30,298.19 633.53,278.40 633.75,268.43 633.97,263.18 634.19,260.86 634.42,260.22 634.64,261.95 634.86,266.35 635.08,274.89 635.30,277.92 635.52,271.27 635.74,264.56 635.96,261.27 636.17,259.41 636.39,259.24 636.61,260.64 636.82,263.66 637.04,268.73 637.25,276.04 637.47,280.23 637.68,275.44 637.90,267.18 638.11,262.52 638.32,260.39 638.54,259.98 638.75,260.64 638.96,262.64 639.17,266.21 639.38,272.49 639.59,278.59 639.80,283.94 640.01,288.17 640.22,288.27 640.43,279.03 640.64,271.75 640.84,267.24 641.05,264.83 641.26,263.53 641.46,263.55 641.67,264.98 641.87,268.56 642.08,273.91 642.28,281.25 642.49,291.32 642.69,308.09 642.89,294.88 643.09,287.12 643.30,280.95 643.50,275.33 643.70,269.62 643.90,265.46 644.10,263.17 644.30,261.64 644.50,260.38 644.70,260.01 644.90,260.66 645.10,262.28 645.29,264.20 645.49,266.45 645.69,268.03 645.88,268.65 646.08,268.64 646.28,269.60 646.47,271.49 646.67,272.28 646.86,268.70 647.06,263.81 647.25,260.38 647.44,258.50 647.64,258.29 647.83,260.33 648.02,265.34 648.21,276.19 648.40,276.90 648.60,265.03 648.79,257.97 648.98,253.61 649.17,251.22 649.36,250.54 649.54,251.05 649.73,252.46 649.92,254.38 650.11,256.67 650.30,259.29 650.49,262.48 650.67,265.55 650.86,269.37 651.05,272.34 651.23,273.32 651.42,271.12 651.60,267.48 651.79,264.66 651.97,262.78 652.15,261.09 652.34,260.00 652.52,259.53 652.70,259.49 652.89,259.79 653.07,260.57 653.25,261.42 653.43,261.49 653.61,260.08 653.80,258.23 653.98,256.95 654.16,256.90 654.34,258.51 654.52,262.90 654.69,274.77 654.87,308.91 655.05,277.46 655.23,261.94 655.41,255.66 655.59,252.62 655.76,251.77 655.94,252.93 656.12,255.98 656.29,260.79 656.47,265.49 656.64,267.29 656.82,265.69 656.99,265.46 657.17,267.85 657.34,273.46 657.52,274.68 657.69,265.22 657.86,257.72 658.04,252.85 658.21,250.18 658.38,249.30 658.55,249.73 658.73,251.33 658.90,253.85 659.07,256.97 659.24,260.02 659.41,262.48 659.58,264.68 659.75,265.75 659.92,264.44 660.09,262.19 660.26,260.63 660.43,260.84 660.60,263.26 660.76,270.42 660.93,287.74 661.10,296.11 661.27,271.36 661.43,261.63 661.60,257.42 661.77,255.98 661.93,256.71 662.10,259.72 662.26,265.22 662.43,274.54 662.59,276.80 662.76,271.14 662.92,266.74 663.09,265.65 663.25,266.94 663.41,270.17 663.58,272.47 663.74,270.37 663.90,265.98 664.06,263.88 664.23,263.97 664.39,266.74 664.55,273.55 664.71,284.63 664.87,290.21 665.03,279.82 665.19,270.26 665.35,265.45 665.51,264.02 665.67,264.23 665.83,265.36 665.99,267.85 666.15,270.91 666.31,273.25 666.47,272.74 666.63,270.38 666.78,267.97 666.94,265.59 667.10,263.80 667.26,262.80 667.41,262.79 667.57,263.85 667.72,265.92 667.88,270.77 668.04,278.85 668.19,293.94 668.35,299.67 668.50,289.39 668.66,277.13 668.81,267.51 668.97,261.73 669.12,257.96 669.27,255.34 669.43,253.63 669.58,252.61 669.73,252.41 669.89,253.00 670.04,254.13 670.19,255.55 670.34,257.14 670.49,258.66 670.65,259.83 670.80,260.15 670.95,260.20 671.10,260.61 671.25,261.88 671.40,264.30 671.55,269.71 671.70,280.77 671.85,309.88 672.00,293.03 672.15,276.32 672.30,268.05 672.44,264.51 672.59,263.54 672.74,264.43 672.89,267.97 673.04,275.97 673.18,288.90 673.33,297.72 673.48,286.50 673.63,274.87 673.77,268.01 673.92,264.97 674.06,264.37 674.21,265.33 674.36,267.66 674.50,271.15 674.65,274.15 674.79,275.15 674.94,274.07 675.08,273.80 675.23,276.12 675.37,283.10 675.51,294.62 675.66,297.11 675.80,281.57 675.94,269.89 676.09,263.67 676.23,261.15 676.37,260.74 676.52,262.08 676.66,264.29 676.80,266.95 676.94,268.15 677.08,267.01 677.22,265.59 677.37,266.14 677.51,270.57 677.65,281.32 677.79,292.70 677.93,279.91 678.07,267.25 678.21,261.51 678.35,259.01 678.49,259.48 678.63,262.93 678.77,272.26 678.90,293.24 679.04,287.87 679.18,268.92 679.32,260.84 679.46,256.65 679.60,254.98 679.73,255.27 679.87,257.39 680.01,261.35 680.15,268.30 680.28,281.33 680.42,300.32 680.56,290.90 680.69,280.20 680.83,274.41 680.96,271.36 681.10,269.53 681.23,269.00 681.37,269.47 681.51,270.73 681.64,272.08 681.78,273.88 681.91,276.14 682.04,278.57 682.18,279.95 682.31,280.39 682.45,279.14 682.58,276.04 682.71,271.89 682.85,268.91 682.98,267.57 683.11,268.03 683.24,270.01 683.38,274.13 683.51,281.01 683.64,292.12" fill="none" stroke="#000000" stroke-width="1.4" stroke-linejoin="round" clip-path="url(#cb)"/>
<polyline points="58.17,276.60 124.07,249.50 162.61,235.40 189.96,232.90 211.18,232.70 228.51,233.40 243.16,235.90 255.86,238.40 267.06,240.80 277.07,243.30 286.13,247.00 294.40,250.70 302.01,250.80 309.06,251.70 315.62,249.60 321.75,247.30 327.52,246.70 332.95,251.70 338.09,262.00 342.97,260.60 347.61,250.20 352.03,248.70 356.25,257.60 360.30,270.90 364.18,290.20 367.91,273.90 371.50,288.70 374.95,273.90 378.29,259.10 381.51,260.40 384.63,266.30 387.65,279.10 390.57,277.10 393.41,283.10 396.17,269.30 398.85,260.40 401.45,255.70 403.99,255.80 406.46,264.80 408.86,281.10 411.21,264.50 413.50,259.50 415.74,267.90 417.92,271.40 420.06,253.00 422.15,249.30 424.19,251.70 426.20,264.00 428.16,281.20 430.08,291.10 431.96,300.90 433.80,278.80 435.62,261.60 437.39,257.90 439.14,260.30 440.85,273.80 442.53,278.80 444.19,264.00 445.81,261.60 447.41,271.40 448.98,283.70 450.53,289.80 452.05,276.30 453.54,267.50 455.02,263.19 456.47,268.41 457.90,270.03 459.31,280.73 460.70,260.60 462.06,260.82 463.41,268.24 464.74,255.96 466.05,255.17 467.35,264.12 468.62,263.27 469.88,262.65 471.12,259.91 472.35,258.71 473.56,265.26 474.76,263.55 475.94,253.21 477.11,258.51 478.26,261.10 479.40,271.27 480.52,257.57 481.63,246.92 482.73,251.18 483.82,269.14 484.89,249.54 485.96,250.32 487.01,258.17 488.04,258.59 489.07,253.08 490.09,252.93 491.10,253.11 492.09,260.06 493.08,252.50 494.05,246.75 495.02,245.80 495.97,255.91 496.92,250.23 497.85,245.76 498.78,247.81 499.70,264.70 500.61,245.44 501.51,240.86 502.40,242.63 503.29,259.20 504.16,239.18 505.03,234.02 505.89,235.15 506.75,249.80 507.59,229.62 508.43,223.29 509.26,222.75 510.08,235.69 510.90,218.47 511.71,209.44 512.51,200.38 513.30,191.29 514.09,200.37 514.88,209.42 515.65,218.43 516.42,235.53 517.19,222.76 517.94,223.25 518.69,229.46 519.44,248.19 520.18,234.88 520.91,233.99 521.64,239.10 522.37,257.28 523.08,241.99 523.79,240.01 524.50,244.18 525.20,262.27 525.90,248.13 526.59,245.48 527.28,248.49 527.96,258.92 528.64,250.22 529.31,249.60 529.97,253.84 530.64,261.19 531.30,250.73 531.95,249.55 532.60,253.34 533.24,264.49 533.88,258.01 534.52,255.81 535.15,258.89 535.78,276.77 536.40,261.21 537.02,254.04 537.64,250.86 538.25,250.71 538.85,248.13 539.46,247.43 540.06,249.89 540.65,256.27 541.25,256.55 541.83,255.58 542.42,259.46 543.00,277.99 543.58,262.60 544.15,255.31 544.72,255.95 545.29,265.90 545.86,269.54 546.42,266.18 546.97,266.80 547.53,277.84 548.08,271.06 548.63,268.52 549.17,271.44 549.71,276.66 550.25,264.32 550.79,261.54 551.32,264.64 551.85,273.87 552.38,268.21 552.90,264.52 553.42,266.08 553.94,275.02 554.46,273.14 554.97,270.01 555.48,268.55 555.98,269.30 556.49,267.84 556.99,269.69 557.49,273.31 557.99,277.65 558.48,272.49 558.97,273.45 559.46,275.27 559.95,268.54 560.43,260.46 560.91,258.34 561.39,260.67 561.87,266.56 562.34,267.10 562.81,263.01 563.28,259.41 563.75,257.19 564.21,255.36 564.68,255.33 565.14,257.16 565.60,260.98 566.05,264.65 566.51,269.28 566.96,271.28 567.41,268.28 567.85,263.73 568.30,263.16 568.74,265.96 569.18,270.39 569.62,267.76 570.06,265.80 570.49,268.44 570.93,278.29 571.36,281.77 571.79,280.63 572.22,283.51 572.64,300.84 573.06,285.02 573.49,281.41 573.91,281.15 574.32,280.04 574.74,270.85 575.15,266.89 575.57,268.18 575.98,275.51 576.39,278.87 576.79,272.68 577.20,266.31 577.60,266.70 578.00,229.57 578.40,222.66 578.80,219.44 579.20,218.44 579.60,219.38 579.99,222.55 580.38,229.45 580.77,268.11 581.16,266.63 581.55,265.09 581.93,265.97 582.32,272.32 582.70,281.38 583.08,274.99 583.46,262.63 583.84,256.23 584.21,252.94 584.59,252.01 584.96,251.81 585.34,251.23 585.71,250.48 586.08,251.22 586.44,254.76 586.81,261.35 587.17,264.45 587.54,259.43 587.90,255.46 588.26,255.61 588.62,260.04 588.98,267.69 589.34,263.90 589.69,255.05 590.04,250.19 590.40,249.40 590.75,252.44 591.10,260.18 591.45,273.22 591.80,278.15 592.14,274.77 592.49,279.32 592.83,282.46 593.17,270.02 593.51,262.10 593.85,260.38 594.19,264.14 594.53,279.46 594.87,290.64 595.20,269.19 595.54,261.71 595.87,261.07 596.20,265.11 596.53,274.63 596.86,282.81 597.19,283.89 597.52,279.88 597.84,269.54 598.17,261.27 598.49,257.14 598.82,256.71 599.14,260.80 599.46,269.34 599.78,276.31 600.10,268.93 600.41,264.44 600.73,265.12 601.05,271.31 601.36,283.96 601.67,299.15 601.98,292.37 602.30,287.15 602.61,273.86 602.92,261.98 603.22,255.17 603.53,251.85 603.84,250.93 604.14,252.56 604.45,256.06 604.75,260.56 605.05,265.39 605.35,274.80 605.65,290.76 605.95,287.22 606.25,270.63 606.55,263.84 606.85,263.53 607.14,270.23 607.44,331.00 607.73,279.21 608.02,260.99 608.32,254.67 608.61,252.49 608.90,253.33 609.19,256.75 609.47,262.72 609.76,270.55 610.05,276.25 610.33,274.86 610.62,273.67 610.90,275.64 611.19,281.28 611.47,289.15 611.75,295.86 612.03,290.87 612.31,279.25 612.59,272.89 612.87,273.29 613.15,280.30 613.42,296.51 613.70,280.99 613.98,265.53 614.25,258.45 614.52,254.26 614.80,252.10 615.07,251.80 615.34,253.27 615.61,256.61 615.88,261.76 616.15,268.16 616.42,272.00 616.68,268.25 616.95,263.84 617.22,261.05 617.48,260.30 617.75,261.57 618.01,264.64 618.27,270.36 618.54,279.02 618.80,282.95 619.06,276.46 619.32,270.43 619.58,266.89 619.84,265.57 620.09,264.97 620.35,265.15 620.61,266.22 620.86,268.45 621.12,271.50 621.37,274.56 621.63,276.86 621.88,276.61 622.13,272.32 622.38,266.82 622.64,262.53 622.89,258.98 623.14,256.52 623.39,255.59 623.63,256.39 623.88,259.09 624.13,263.26 624.38,266.93 624.62,266.62 624.87,263.60 625.11,261.27 625.36,261.67 625.60,264.81 625.84,272.48 626.08,287.44 626.33,292.70 626.57,274.29 626.81,262.86 627.05,256.58 627.29,252.86 627.52,251.10 627.76,251.13 628.00,252.80 628.24,256.52 628.47,263.05 628.71,274.58 628.94,282.47 629.18,274.12 629.41,267.33 629.65,265.82 629.88,267.72 630.11,275.33 630.34,292.22 630.57,308.01 630.80,282.08 631.03,271.30 631.26,266.46 631.49,264.95 631.72,265.15 631.95,267.03 632.17,270.49 632.40,274.15 632.63,276.44 632.85,278.61 633.08,282.40 633.30,287.88 633.53,287.87 633.75,282.97 633.97,278.18 634.19,275.99 634.42,276.61 634.64,280.95 634.86,286.56 635.08,282.31 635.30,271.36 635.52,264.12 635.74,259.93 635.96,257.54 636.17,256.19 636.39,255.47 636.61,255.01 636.82,254.62 637.04,254.36 637.25,254.58 637.47,255.62 637.68,257.60 637.90,260.37 638.11,263.64 638.32,266.92 638.54,269.94 638.75,271.74 638.96,272.46 639.17,271.86 639.38,269.70 639.59,267.44 639.80,266.09 640.01,265.27 640.22,264.96 640.43,264.80 640.64,264.68 640.84,264.38 641.05,263.62 641.26,262.23 641.46,260.60 641.67,259.00 641.87,257.65 642.08,256.71 642.28,256.21 642.49,256.11 642.69,256.44 642.89,257.21 643.09,258.59 643.30,260.68 643.50,263.85 643.70,268.59 643.90,277.10 644.10,289.26 644.30,295.03 644.50,283.26 644.70,274.25 644.90,268.48 645.10,265.59 645.29,264.16 645.49,264.10 645.69,265.17 645.88,267.62 646.08,272.27 646.28,277.57 646.47,278.53 646.67,273.27 646.86,267.08 647.06,263.84 647.25,263.11 647.44,265.25 647.64,272.13 647.83,290.01 648.02,297.86 648.21,272.07 648.40,261.47 648.60,256.34 648.79,254.01 648.98,253.85 649.17,255.69 649.36,259.71 649.54,266.51 649.73,280.16 649.92,303.94 650.11,304.99 650.30,293.10 650.49,287.70 650.67,282.85 650.86,277.62 651.05,272.56 651.23,268.76 651.42,266.77 651.60,265.57 651.79,265.49 651.97,266.14 652.15,267.05 652.34,268.25 652.52,270.12 652.70,271.91 652.89,273.82 653.07,275.65 653.25,276.48 653.43,276.10 653.61,275.43 653.80,276.08 653.98,278.93 654.16,283.94 654.34,286.56 654.52,283.08 654.69,277.84 654.87,274.99 655.05,275.66 655.23,281.00 655.41,295.02 655.59,313.87 655.76,288.78 655.94,274.82 656.12,267.34 656.29,264.88 656.47,265.17 656.64,268.19 656.82,275.22 656.99,283.70 657.17,283.44 657.34,278.36 657.52,276.41 657.69,279.28 657.86,287.72 658.04,298.04 658.21,289.02 658.38,278.43 658.55,272.79 658.73,271.31 658.90,272.46 659.07,273.01 659.24,268.90 659.41,263.87 659.58,259.90 659.75,257.66 659.92,257.38 660.09,259.38 660.26,264.27 660.43,274.36 660.60,285.43 660.76,275.66 660.93,265.94 661.10,261.91 661.27,261.24 661.43,263.89 661.60,271.54 661.77,290.39 661.93,287.54 662.10,268.86 662.26,261.08 662.43,257.43 662.59,256.46 662.76,257.92 662.92,261.94 663.09,269.30 663.25,281.41 663.41,284.22 663.58,276.63 663.74,272.35 663.90,272.03 664.06,274.80 664.23,277.20 664.39,273.67 664.55,267.01 664.71,262.30 664.87,259.68 665.03,259.02 665.19,260.06 665.35,262.42 665.51,264.84 665.67,265.34 665.83,262.88 665.99,259.48 666.15,256.99 666.31,255.91 666.47,256.27 666.63,258.06 666.78,261.84 666.94,267.41 667.10,276.52 667.26,288.50 667.41,303.40 667.57,314.34 667.72,309.66 667.88,308.06 668.04,305.33 668.19,300.41 668.35,295.38 668.50,293.52 668.66,293.86 668.81,297.55 668.97,299.14 669.12,299.32 669.27,299.25 669.43,299.25 669.58,296.19 669.73,290.49 669.89,282.02 670.04,273.90 670.19,267.09 670.34,262.48 670.49,258.89 670.65,256.27 670.80,254.63 670.95,253.95 671.10,254.24 671.25,255.54 671.40,257.78 671.55,260.71 671.70,263.61 671.85,265.36 672.00,265.00 672.15,264.09 672.30,264.36 672.44,267.02 672.59,275.15 672.74,296.67 672.89,295.76 673.04,270.53 673.18,260.56 673.33,255.28 673.48,252.56 673.63,251.84 673.77,252.81 673.92,255.53 674.06,259.68 674.21,263.44 674.36,263.00 674.50,259.20 674.65,255.67 674.79,253.75 674.94,253.63 675.08,255.43 675.23,259.49 675.37,266.74 675.51,282.22 675.66,295.12 675.80,277.54 675.94,267.46 676.09,263.49 676.23,262.06 676.37,262.15 676.52,262.86 676.66,263.19 676.80,262.51 676.94,261.31 677.08,260.43 677.22,260.40 677.37,261.45 677.51,263.50 677.65,266.07 677.79,268.30 677.93,269.96 678.07,270.90 678.21,271.85 678.35,272.69 678.49,272.10 678.63,269.93 678.77,267.42 678.90,265.78 679.04,265.31 679.18,266.23 679.32,268.45 679.46,271.40 679.60,273.32 679.73,273.42 679.87,273.13 680.01,274.42 680.15,279.13 680.28,288.77 680.42,296.22 680.56,283.80 680.69,272.79 680.83,266.72 680.96,264.31 681.10,264.13 681.23,266.32 681.37,271.30 681.51,278.54 681.64,284.54 681.78,286.63 681.91,287.60 682.04,288.12 682.18,282.25 682.31,272.02 682.45,263.87 682.58,258.54 682.71,255.22 682.85,253.78 682.98,254.10 683.11,255.97 683.24,260.22 683.38,267.94 683.51,286.05 683.64,314.57" fill="none" stroke="#ff0000" stroke-width="1.4" stroke-linejoin="round" clip-path="url(#cb)"/>
<polyline points="58.17,226.50 124.07,224.80 162.61,222.80 189.96,223.10 211.18,228.50 228.51,243.30 243.16,243.30 255.86,232.20 267.06,229.70 277.07,233.40 286.13,242.00 294.40,250.70 302.01,248.70 309.06,242.80 315.62,241.30 321.75,248.70 327.52,269.40 332.95,245.80 338.09,238.40 342.97,236.90 347.61,239.90 352.03,248.70 356.25,256.10 360.30,251.70 364.18,247.30 367.91,248.70 371.50,256.10 374.95,263.50 378.29,272.40 381.51,275.20 384.63,276.20 387.65,273.20 390.57,271.20 393.41,269.30 396.17,259.40 398.85,249.60 401.45,242.70 403.99,243.60 406.46,254.50 408.86,255.00 411.21,251.50 413.50,249.60 415.74,256.00 417.92,257.90 420.06,270.20 422.15,287.40 424.19,271.40 426.20,254.20 428.16,257.90 430.08,260.30 431.96,271.40 433.80,283.70 435.62,268.90 437.39,261.60 439.14,265.20 440.85,262.80 442.53,257.90 444.19,266.50 445.81,271.40 447.41,265.20 448.98,261.60 450.53,264.00 452.05,261.60 453.54,277.27 455.02,289.27 456.47,279.38 457.90,287.18 459.31,260.63 460.70,253.41 462.06,269.58 463.41,274.54 464.74,264.24 466.05,275.36 467.35,272.82 468.62,259.03 469.88,261.17 471.12,260.91 472.35,251.61 473.56,253.75 474.76,260.45 475.94,253.13 477.11,254.76 478.26,263.54 479.40,264.41 480.52,269.23 481.63,288.72 482.73,264.92 483.82,251.36 484.89,250.88 485.96,265.13 487.01,273.79 488.04,263.15 489.07,262.74 490.09,258.36 491.10,259.96 492.09,274.47 493.08,297.02 494.05,271.02 495.02,263.36 495.97,258.05 496.92,253.83 497.85,256.26 498.78,267.18 499.70,266.32 500.61,265.80 501.51,282.01 502.40,273.97 503.29,275.07 504.16,295.09 505.03,274.17 505.89,265.84 506.75,268.65 507.59,282.20 508.43,275.16 509.26,259.54 510.08,254.48 510.90,257.05 511.71,270.68 512.51,292.00 513.30,271.23 514.09,267.41 514.88,268.25 515.65,266.69 516.42,271.62 517.19,279.73 517.94,267.23 518.69,265.48 519.44,284.86 520.18,271.74 520.91,257.67 521.64,256.41 522.37,264.97 523.08,280.39 523.79,274.32 524.50,274.44 525.20,270.74 525.90,261.34 526.59,258.71 527.28,261.54 527.96,267.08 528.64,268.00 529.31,264.31 529.97,260.09 530.64,258.09 531.30,260.00 531.95,268.27 532.60,281.81 533.24,288.46 533.88,285.73 534.52,283.49 535.15,279.83 535.78,281.32 536.40,276.50 537.02,267.40 537.64,262.96 538.25,263.60 538.85,269.01 539.46,278.94 540.06,285.68 540.65,302.27 541.25,281.45 541.83,268.70 542.42,264.10 543.00,265.74 543.58,270.68 544.15,278.03 544.72,283.83 545.29,285.27 545.86,270.30 546.42,266.18 546.97,269.87 547.53,279.00 548.08,269.11 548.63,263.65 549.17,264.68 549.71,274.43 550.25,276.07 550.79,266.18 551.32,260.07 551.85,257.13 552.38,254.91 552.90,254.82 553.42,257.15 553.94,260.52 554.46,258.37 554.97,255.24 555.48,254.82 555.98,257.62 556.49,261.77 556.99,265.59 557.49,265.93 557.99,266.69 558.48,265.00 558.97,267.30 559.46,272.10 559.95,275.35 560.43,260.16 560.91,252.40 561.39,247.52 561.87,244.58 562.34,242.57 562.81,242.56 563.28,244.66 563.75,248.86 564.21,252.12 564.68,255.17 565.14,259.69 565.60,271.71 566.05,265.25 566.51,261.61 566.96,263.05 567.41,274.39 567.85,262.23 568.30,258.10 568.74,256.61 569.18,255.95 569.62,248.89 570.06,246.92 570.49,249.61 570.93,260.48 571.36,254.90 571.79,250.92 572.22,252.40 572.64,265.81 573.06,250.06 573.49,245.55 573.91,246.96 574.32,259.82 574.74,242.99 575.15,238.12 575.57,239.20 575.98,254.54 576.39,233.96 576.79,227.46 577.20,226.72 577.60,239.14 578.00,221.52 578.40,211.52 578.80,201.44 579.20,191.29 579.60,201.45 579.99,211.60 580.38,221.72 580.77,239.82 581.16,226.68 581.55,227.21 581.93,233.20 582.32,249.18 582.70,238.40 583.08,238.02 583.46,243.54 583.84,263.60 584.21,247.20 584.59,245.45 584.96,249.40 585.34,261.94 585.71,251.41 586.08,250.50 586.44,255.03 586.81,268.17 587.17,254.85 587.54,253.35 587.90,257.63 588.26,265.71 588.62,254.23 588.98,250.88 589.34,252.81 589.69,262.13 590.04,263.46 590.40,259.37 590.75,254.79 591.10,252.71 591.45,250.87 591.80,253.11 592.14,259.86 592.49,277.77 592.83,267.80 593.17,261.83 593.51,259.93 593.85,260.06 594.19,257.86 594.53,259.31 594.87,266.47 595.20,289.63 595.54,272.06 595.87,265.23 596.20,265.08 596.53,271.20 596.86,267.76 597.19,262.18 597.52,258.74 597.84,257.72 598.17,257.65 598.49,260.99 598.82,269.04 599.14,281.17 599.46,268.67 599.78,262.72 600.10,261.63 600.41,263.83 600.73,265.62 601.05,269.80 601.36,275.94 601.67,284.83 601.98,275.35 602.30,271.57 602.61,270.52 602.92,271.06 603.22,268.84 603.53,269.42 603.84,273.01 604.14,276.40 604.45,269.93 604.75,264.98 605.05,262.32 605.35,261.37 605.65,260.11 605.95,259.99 606.25,260.91 606.55,262.38 606.85,262.63 607.14,262.49 607.44,262.42 607.73,262.73 608.02,262.62 608.32,264.27 608.61,267.75 608.90,273.80 609.19,273.68 609.47,269.52 609.76,265.28 610.05,262.46 610.33,260.35 610.62,260.19 610.90,262.07 611.19,266.25 611.47,272.31 611.75,280.66 612.03,288.55 612.31,287.20 612.59,271.72 612.87,263.98 613.15,259.65 613.42,257.20 613.70,256.09 613.98,256.60 614.25,258.29 614.52,260.94 614.80,262.77 615.07,263.54 615.34,264.12 615.61,265.34 615.88,268.08 616.15,276.16 616.42,290.45 616.68,306.53 616.95,283.29 617.22,276.54 617.48,275.89 617.75,279.06 618.01,279.45 618.27,277.44 618.54,274.81 618.80,274.18 619.06,274.76 619.32,277.68 619.58,280.71 619.84,278.74 620.09,272.54 620.35,269.98 620.61,271.86 620.86,279.50 621.12,288.86 621.37,289.16 621.63,279.80 621.88,270.91 622.13,265.73 622.38,263.31 622.64,262.59 622.89,262.60 623.14,262.90 623.39,264.38 623.63,267.91 623.88,276.59 624.13,289.53 624.38,294.64 624.62,284.97 624.87,274.10 625.11,267.20 625.36,263.79 625.60,261.55 625.84,260.04 626.08,259.03 626.33,258.92 626.57,259.70 626.81,261.07 627.05,262.25 627.29,262.70 627.52,262.04 627.76,260.66 628.00,259.27 628.24,258.82 628.47,259.95 628.71,263.40 628.94,270.79 629.18,289.31 629.41,297.55 629.65,274.45 629.88,263.54 630.11,258.81 630.34,257.06 630.57,257.82 630.80,260.99 631.03,266.81 631.26,277.45 631.49,287.81 631.72,283.02 631.95,277.17 632.17,272.64 632.40,267.39 632.63,262.30 632.85,258.11 633.08,317.00 633.30,254.31 633.53,254.78 633.75,256.85 633.97,260.64 634.19,266.33 634.42,275.14 634.64,286.10 634.86,298.23 635.08,313.79 635.30,302.88 635.52,294.89 635.74,287.73 635.96,281.57 636.17,275.67 636.39,271.06 636.61,267.59 636.82,265.32 637.04,264.03 637.25,264.26 637.47,266.28 637.68,271.42 637.90,281.73 638.11,294.17 638.32,285.86 638.54,272.35 638.75,265.16 638.96,261.63 639.17,259.99 639.38,259.64 639.59,260.31 639.80,261.52 640.01,262.57 640.22,263.11 640.43,263.21 640.64,263.74 640.84,265.88 641.05,271.24 641.26,282.00 641.46,285.28 641.67,269.85 641.87,260.19 642.08,254.30 642.28,250.89 642.49,249.42 642.69,249.70 642.89,251.67 643.09,255.41 643.30,260.60 643.50,265.78 643.70,267.33 643.90,265.69 644.10,264.56 644.30,265.65 644.50,269.23 644.70,278.24 644.90,292.05 645.10,295.03 645.29,283.64 645.49,278.55 645.69,277.86 645.88,280.25 646.08,282.00 646.28,279.74 646.47,275.36 646.67,272.50 646.86,272.31 647.06,275.63 647.25,282.18 647.44,285.52 647.64,277.40 647.83,268.97 648.02,264.57 648.21,262.30 648.40,262.05 648.60,263.45 648.79,265.62 648.98,266.68 649.17,265.22 649.36,262.77 649.54,260.72 649.73,259.67 649.92,259.65 650.11,260.61 650.30,262.29 650.49,264.35 650.67,266.66 650.86,269.29 651.05,272.78 651.23,275.90 651.42,277.23 651.60,275.77 651.79,274.37 651.97,274.23 652.15,275.71 652.34,279.42 652.52,285.64 652.70,296.20 652.89,303.44 653.07,303.91 653.25,301.23 653.43,290.99 653.61,277.54 653.80,267.64 653.98,261.70 654.16,257.37 654.34,254.48 654.52,252.97 654.69,252.78 654.87,253.90 655.05,301.00 655.23,260.45 655.41,266.48 655.59,277.08 655.76,293.78 655.94,307.45 656.12,304.55 656.29,290.81 656.47,280.97 656.64,273.95 656.82,268.70 656.99,265.76 657.17,264.13 657.34,263.84 657.52,264.72 657.69,266.46 657.86,268.25 658.04,269.32 658.21,269.68 658.38,270.11 658.55,270.70 658.73,272.67 658.90,276.94 659.07,284.53 659.24,294.27 659.41,295.55 659.58,286.55 659.75,277.10 659.92,269.92 660.09,265.87 660.26,263.39 660.43,262.26 660.60,262.24 660.76,263.30 660.93,265.50 661.10,268.98 661.27,275.20 661.43,283.73 661.60,295.48 661.77,315.55 661.93,310.92 662.10,303.56 662.26,295.30 662.43,289.76 662.59,286.27 662.76,285.04 662.92,285.76 663.09,288.56 663.25,293.04 663.41,300.95 663.58,311.26 663.74,313.94 663.90,291.80 664.06,279.34 664.23,270.93 664.39,266.01 664.55,263.04 664.71,260.98 664.87,260.44 665.03,261.58 665.19,264.60 665.35,269.61 665.51,274.56 665.67,269.83 665.83,262.69 665.99,257.17 666.15,253.62 666.31,251.81 666.47,251.60 666.63,253.03 666.78,256.10 666.94,261.61 667.10,271.74 667.26,296.25 667.41,292.92 667.57,273.03 667.72,265.22 667.88,262.25 668.04,261.96 668.19,264.14 668.35,269.27 668.50,281.75 668.66,299.16 668.81,283.01 668.97,268.77 669.12,262.91 669.27,260.12 669.43,259.55 669.58,260.92 669.73,264.43 669.89,270.83 670.04,280.94 670.19,286.31 670.34,282.17 670.49,277.75 670.65,276.50 670.80,278.49 670.95,283.42 671.10,290.45 671.25,296.85 671.40,297.68 671.55,296.33 671.70,292.50 671.85,282.31 672.00,271.12 672.15,263.89 672.30,259.03 672.44,255.85 672.59,254.14 672.74,253.87 672.89,255.04 673.04,257.74 673.18,262.23 673.33,268.87 673.48,278.99 673.63,280.94 673.77,272.81 673.92,266.64 674.06,263.85 674.21,263.45 674.36,265.50 674.50,271.31 674.65,285.97 674.79,317.42 674.94,287.41 675.08,270.43 675.23,263.62 675.37,260.34 675.51,259.28 675.66,259.69 675.80,261.57 675.94,264.36 676.09,266.17 676.23,265.04 676.37,262.07 676.52,259.40 676.66,257.83 676.80,257.86 676.94,259.59 677.08,263.12 677.22,268.07 677.37,272.85 677.51,271.17 677.65,266.45 677.79,263.36 677.93,262.45 678.07,264.00 678.21,268.68 678.35,281.55 678.49,312.40 678.63,290.16 678.77,270.39 678.90,262.47 679.04,258.25 679.18,256.24 679.32,255.97 679.46,257.32 679.60,260.26 679.73,264.96 679.87,272.24 680.01,282.03 680.15,286.97 680.28,283.60 680.42,279.49 680.56,278.24 680.69,280.26 680.83,286.09 680.96,298.31 681.10,314.13 681.23,306.14 681.37,286.85 681.51,275.83 681.64,269.11 681.78,266.20 681.91,265.23 682.04,266.17 682.18,268.65 682.31,274.82 682.45,285.10 682.58,294.45 682.71,287.54 682.85,278.95 682.98,274.91 683.11,275.37 683.24,280.35 683.38,290.51 683.51,294.39 683.64,280.67" fill="none" stroke="#0072bd" stroke-width="1.4" stroke-linejoin="round" clip-path="url(#cb)"/>
<polyline points="58.17,286.00 124.07,296.00 162.61,288.00 189.96,265.50 211.18,255.60 228.51,249.50 243.16,247.00 255.86,247.00 267.06,244.50 277.07,240.80 286.13,238.40 294.40,237.10 302.01,237.60 309.06,239.60 315.62,242.80 321.75,254.70 327.52,269.40 332.95,247.30 338.09,238.40 342.97,235.40 347.61,241.30 352.03,257.60 356.25,260.60 360.30,245.80 364.18,244.30 367.91,250.20 371.50,268.00 374.95,248.70 378.29,241.30 381.51,250.50 384.63,261.40 387.65,297.80 390.57,258.40 393.41,251.50 396.17,253.50 398.85,259.40 401.45,267.00 403.99,264.00 406.46,262.40 408.86,262.70 411.21,261.80 413.50,261.60 415.74,266.60 417.92,266.50 420.06,261.60 422.15,261.60 424.19,260.30 426.20,257.90 428.16,255.40 430.08,256.60 431.96,266.50 433.80,281.20 435.62,289.80 437.39,276.30 439.14,261.60 440.85,254.20 442.53,250.50 444.19,249.30 445.81,253.00 447.41,255.40 448.98,256.60 450.53,251.70 452.05,249.30 453.54,250.83 455.02,256.39 456.47,283.46 457.90,260.39 459.31,282.44 460.70,281.83 462.06,265.63 463.41,260.39 464.74,271.15 466.05,253.27 467.35,252.68 468.62,262.06 469.88,265.10 471.12,259.42 472.35,270.53 473.56,261.71 474.76,245.72 475.94,246.62 477.11,256.36 478.26,265.39 479.40,263.77 480.52,264.14 481.63,269.40 482.73,271.46 483.82,264.57 484.89,260.84 485.96,282.55 487.01,273.29 488.04,273.45 489.07,267.53 490.09,247.58 491.10,249.12 492.09,284.08 493.08,260.13 494.05,257.51 495.02,274.57 495.97,259.15 496.92,254.86 497.85,262.43 498.78,305.58 499.70,269.08 500.61,258.28 501.51,258.57 502.40,264.15 503.29,272.74 504.16,266.15 505.03,261.96 505.89,266.49 506.75,289.46 507.59,293.10 508.43,267.83 509.26,261.35 510.08,263.04 510.90,265.15 511.71,263.51 512.51,272.93 513.30,288.13 514.09,256.82 514.88,249.89 515.65,249.67 516.42,254.01 517.19,265.54 517.94,290.55 518.69,259.22 519.44,252.13 520.18,254.08 520.91,264.09 521.64,288.18 522.37,289.17 523.08,267.59 523.79,258.31 524.50,257.90 525.20,332.00 525.90,279.90 526.59,281.11 527.28,291.83 527.96,268.80 528.64,255.28 529.31,250.39 529.97,249.66 530.64,249.81 531.30,250.49 531.95,254.24 532.60,262.70 533.24,265.52 533.88,259.73 534.52,259.94 535.15,269.50 535.78,310.74 536.40,273.78 537.02,261.26 537.64,258.69 538.25,262.41 538.85,280.19 539.46,273.76 540.06,257.30 540.65,252.71 541.25,254.68 541.83,262.63 542.42,275.86 543.00,274.08 543.58,267.86 544.15,264.13 544.72,261.56 545.29,261.70 545.86,268.10 546.42,292.55 546.97,283.59 547.53,267.77 548.08,267.04 548.63,275.70 549.17,288.06 549.71,282.49 550.25,275.79 550.79,274.00 551.32,273.53 551.85,272.18 552.38,267.85 552.90,262.75 553.42,259.25 553.94,258.79 554.46,262.28 554.97,274.79 555.48,292.44 555.98,265.10 556.49,256.22 556.99,254.27 557.49,258.02 557.99,270.26 558.48,315.49 558.97,291.37 559.46,283.88 559.95,286.74 560.43,280.49 560.91,273.19 561.39,272.17 561.87,276.32 562.34,282.03 562.81,288.09 563.28,304.62 563.75,310.18 564.21,281.87 564.68,269.70 565.14,263.22 565.60,259.06 566.05,257.53 566.51,260.02 566.96,268.34 567.41,280.64 567.85,268.92 568.30,261.67 568.74,260.79 569.18,263.07 569.62,264.55 570.06,263.74 570.49,262.37 570.93,261.20 571.36,260.46 571.79,261.59 572.22,268.19 572.64,291.94 573.06,278.63 573.49,263.07 573.91,259.92 574.32,264.40 574.74,283.06 575.15,314.81 575.57,280.22 575.98,276.85 576.39,281.45 576.79,276.27 577.20,267.18 577.60,265.19 578.00,266.86 578.40,265.65 578.80,260.23 579.20,256.29 579.60,255.82 579.99,258.62 580.38,264.37 580.77,270.21 581.16,265.63 581.55,259.54 581.93,256.07 582.32,255.73 582.70,258.89 583.08,266.05 583.46,276.25 583.84,273.68 584.21,268.28 584.59,266.36 584.96,266.35 585.34,266.32 585.71,267.26 586.08,270.99 586.44,274.49 586.81,269.94 587.17,264.03 587.54,262.29 587.90,265.46 588.26,279.67 588.62,315.77 588.98,276.30 589.34,262.86 589.69,257.41 590.04,254.80 590.40,254.47 590.75,256.78 591.10,262.03 591.45,268.13 591.80,263.98 592.14,257.21 592.49,254.18 592.83,255.50 593.17,262.36 593.51,286.22 593.85,292.05 594.19,267.20 594.53,262.71 594.87,264.89 595.20,272.77 595.54,273.32 595.87,265.05 596.20,261.93 596.53,263.80 596.86,270.44 597.19,271.02 597.52,262.72 597.84,258.55 598.17,259.13 598.49,265.17 598.82,280.88 599.14,275.16 599.46,263.11 599.78,259.40 600.10,260.70 600.41,267.25 600.73,284.57 601.05,291.01 601.36,279.18 601.67,276.30 601.98,276.28 602.30,269.73 602.61,262.11 602.92,257.52 603.22,255.96 603.53,257.37 603.84,261.64 604.14,268.07 604.45,271.75 604.75,268.82 605.05,267.11 605.35,269.44 605.65,278.39 605.95,296.27 606.25,290.27 606.55,276.15 606.85,270.37 607.14,271.14 607.44,278.78 607.73,300.30 608.02,312.57 608.32,280.13 608.61,268.89 608.90,264.99 609.19,264.49 609.47,264.90 609.76,263.68 610.05,259.65 610.33,255.69 610.62,253.55 610.90,253.67 611.19,256.30 611.47,261.48 611.75,268.64 612.03,273.16 612.31,270.45 612.59,267.25 612.87,266.32 613.15,267.26 613.42,269.89 613.70,273.89 613.98,277.92 614.25,276.30 614.52,269.70 614.80,263.91 615.07,260.68 615.34,259.71 615.61,261.01 615.88,264.83 616.15,273.35 616.42,287.57 616.68,289.76 616.95,274.82 617.22,265.55 617.48,262.20 617.75,262.06 618.01,264.19 618.27,264.76 618.54,259.92 618.80,253.59 619.06,249.25 619.32,247.56 619.58,248.82 619.84,254.06 620.09,267.06 620.35,315.92 620.61,263.11 620.86,252.73 621.12,248.79 621.37,248.77 621.63,252.40 621.88,260.67 622.13,277.74 622.38,274.26 622.64,262.55 622.89,258.56 623.14,258.75 623.39,262.30 623.63,268.95 623.88,276.03 624.13,275.77 624.38,272.03 624.62,268.74 624.87,265.66 625.11,262.77 625.36,261.09 625.60,260.82 625.84,262.17 626.08,265.08 626.33,269.39 626.57,273.34 626.81,275.85 627.05,279.75 627.29,288.18 627.52,293.79 627.76,279.00 628.00,266.42 628.24,260.58 628.47,257.50 628.71,256.52 628.94,257.30 629.18,259.48 629.41,261.63 629.65,262.52 629.88,261.08 630.11,258.36 630.34,255.86 630.57,254.21 630.80,253.63 631.03,254.54 631.26,257.24 631.49,262.32 631.72,272.28 631.95,290.45 632.17,288.01 632.40,274.32 632.63,267.44 632.85,265.52 633.08,266.16 633.30,267.74 633.53,269.91 633.75,274.11 633.97,282.84 634.19,292.96 634.42,275.23 634.64,262.89 634.86,256.76 635.08,253.71 635.30,252.93 635.52,254.83 635.74,260.13 635.96,273.20 636.17,281.34 636.39,274.23 636.61,268.84 636.82,269.67 637.04,269.58 637.25,270.62 637.47,272.69 637.68,274.92 637.90,262.51 638.11,259.71 638.32,263.50 638.54,282.32 638.75,264.70 638.96,256.75 639.17,253.56 639.38,253.38 639.59,249.77 639.80,249.41 640.01,253.09 640.22,267.36 640.43,255.40 640.64,251.06 640.84,252.73 641.05,266.90 641.26,250.96 641.46,246.84 641.67,248.87 641.87,262.95 642.08,245.62 642.28,241.32 642.49,242.83 642.69,253.47 642.89,240.43 643.09,236.43 643.30,238.05 643.50,250.45 643.70,235.62 643.90,231.05 644.10,232.35 644.30,247.84 644.50,221.78 644.70,211.63 644.90,201.46 645.10,191.30 645.29,201.46 645.49,211.62 645.69,221.77 645.88,247.97 646.08,232.49 646.28,231.30 646.47,236.24 646.67,254.67 646.86,238.86 647.06,236.83 647.25,240.51 647.44,251.94 647.64,241.92 647.83,240.38 648.02,244.01 648.21,254.51 648.40,245.87 648.60,244.01 648.79,246.52 648.98,253.26 649.17,248.21 649.36,248.08 649.54,252.94 649.73,270.13 649.92,257.69 650.11,255.39 650.30,258.16 650.49,264.78 650.67,256.35 650.86,253.56 651.05,253.47 651.23,254.60 651.42,252.78 651.60,253.79 651.79,257.85 651.97,265.50 652.15,265.77 652.34,264.15 652.52,263.34 652.70,264.68 652.89,264.08 653.07,266.47 653.25,271.02 653.43,274.79 653.61,270.34 653.80,268.56 653.98,270.43 654.16,275.76 654.34,278.41 654.52,278.16 654.69,274.98 654.87,271.22 655.05,268.32 655.23,268.25 655.41,270.55 655.59,274.39 655.76,277.43 655.94,279.28 656.12,282.86 656.29,288.19 656.47,293.07 656.64,293.80 656.82,287.29 656.99,279.21 657.17,273.81 657.34,270.89 657.52,270.08 657.69,271.61 657.86,276.15 658.04,285.29 658.21,300.95 658.38,294.87 658.55,279.06 658.73,270.53 658.90,266.74 659.07,266.46 659.24,268.73 659.41,271.87 659.58,270.68 659.75,265.87 659.92,262.34 660.09,260.79 660.26,261.63 660.43,265.13 660.60,272.77 660.76,280.09 660.93,275.00 661.10,267.01 661.27,263.61 661.43,263.07 661.60,265.12 661.77,267.37 661.93,265.20 662.10,259.92 662.26,255.37 662.43,252.75 662.59,252.48 662.76,254.37 662.92,258.73 663.09,266.61 663.25,285.24 663.41,297.59 663.58,275.84 663.74,265.05 663.90,259.69 664.06,255.91 664.23,253.06 664.39,251.01 664.55,249.89 664.71,249.86 664.87,251.06 665.03,253.59 665.19,257.44 665.35,262.11 665.51,265.86 665.67,266.63 665.83,265.49 665.99,264.54 666.15,264.78 666.31,266.39 666.47,269.90 666.63,274.82 666.78,279.21 666.94,281.54 667.10,280.16 667.26,276.25 667.41,272.12 667.57,269.05 667.72,267.29 667.88,266.92 668.04,267.84 668.19,269.75 668.35,272.10 668.50,274.79 668.66,278.69 668.81,286.54 668.97,305.26 669.12,304.23 669.27,278.26 669.43,265.01 669.58,258.27 669.73,254.04 669.89,251.66 670.04,250.76 670.19,251.23 670.34,253.06 670.49,256.29 670.65,260.91 670.80,266.41 670.95,271.50 671.10,270.76 671.25,266.79 671.40,264.33 671.55,263.52 671.70,264.79 671.85,269.47 672.00,279.47 672.15,297.22 672.30,297.41 672.44,279.94 672.59,270.14 672.74,265.47 672.89,263.73 673.04,263.56 673.18,264.64 673.33,266.77 673.48,270.49 673.63,275.13 673.77,279.50 673.92,282.44 674.06,281.49 674.21,276.87 674.36,271.39 674.50,266.86 674.65,264.21 674.79,262.61 674.94,262.45 675.08,263.89 675.23,267.25 675.37,274.64 675.51,285.41 675.66,290.42 675.80,280.13 675.94,271.02 676.09,265.94 676.23,263.94 676.37,263.72 676.52,265.09 676.66,268.36 676.80,274.53 676.94,283.78 677.08,298.17 677.22,316.20 677.37,316.20 677.51,313.93 677.65,306.67 677.79,302.96 677.93,298.88 678.07,291.93 678.21,283.32 678.35,275.31 678.49,268.73 678.63,264.59 678.77,262.32 678.90,261.62 679.04,262.59 679.18,265.49 679.32,271.88 679.46,283.25 679.60,293.79 679.73,287.78 679.87,280.00 680.01,277.05 680.15,278.84 680.28,286.33 680.42,303.79 680.56,307.99 680.69,285.57 680.83,273.48 680.96,266.30 681.10,262.36 681.23,259.18 681.37,256.68 681.51,255.01 681.64,254.27 681.78,254.65 681.91,256.38 682.04,259.77 682.18,265.21 682.31,275.64 682.45,312.00 682.58,308.64 682.71,297.37 682.85,292.42 682.98,293.68 683.11,293.26 683.24,286.46 683.38,277.87 683.51,272.05 683.64,269.76" fill="none" stroke="#12851a" stroke-width="1.4" stroke-linejoin="round" clip-path="url(#cb)"/>
<line x1="54.29" y1="351.8" x2="54.29" y2="348.3" stroke="#262626" stroke-width="1"/>
<line x1="54.29" y1="194.5" x2="54.29" y2="198.0" stroke="#262626" stroke-width="1"/>
<line x1="75.50" y1="351.8" x2="75.50" y2="348.3" stroke="#262626" stroke-width="1"/>
<line x1="75.50" y1="194.5" x2="75.50" y2="198.0" stroke="#262626" stroke-width="1"/>
<line x1="92.84" y1="351.8" x2="92.84" y2="348.3" stroke="#262626" stroke-width="1"/>
<line x1="92.84" y1="194.5" x2="92.84" y2="198.0" stroke="#262626" stroke-width="1"/>
<line x1="107.49" y1="351.8" x2="107.49" y2="348.3" stroke="#262626" stroke-width="1"/>
<line x1="107.49" y1="194.5" x2="107.49" y2="198.0" stroke="#262626" stroke-width="1"/>
<line x1="120.19" y1="351.8" x2="120.19" y2="348.3" stroke="#262626" stroke-width="1"/>
<line x1="120.19" y1="194.5" x2="120.19" y2="198.0" stroke="#262626" stroke-width="1"/>
<line x1="131.38" y1="351.8" x2="131.38" y2="348.3" stroke="#262626" stroke-width="1"/>
<line x1="131.38" y1="194.5" x2="131.38" y2="198.0" stroke="#262626" stroke-width="1"/>
<line x1="141.40" y1="351.8" x2="141.40" y2="345.3" stroke="#262626" stroke-width="1"/>
<line x1="141.40" y1="194.5" x2="141.40" y2="201.0" stroke="#262626" stroke-width="1"/>
<line x1="207.30" y1="351.8" x2="207.30" y2="348.3" stroke="#262626" stroke-width="1"/>
<line x1="207.30" y1="194.5" x2="207.30" y2="198.0" stroke="#262626" stroke-width="1"/>
<line x1="245.84" y1="351.8" x2="245.84" y2="348.3" stroke="#262626" stroke-width="1"/>
<line x1="245.84" y1="194.5" x2="245.84" y2="198.0" stroke="#262626" stroke-width="1"/>
<line x1="273.19" y1="351.8" x2="273.19" y2="348.3" stroke="#262626" stroke-width="1"/>
<line x1="273.19" y1="194.5" x2="273.19" y2="198.0" stroke="#262626" stroke-width="1"/>
<line x1="294.40" y1="351.8" x2="294.40" y2="348.3" stroke="#262626" stroke-width="1"/>
<line x1="294.40" y1="194.5" x2="294.40" y2="198.0" stroke="#262626" stroke-width="1"/>
<line x1="311.74" y1="351.8" x2="311.74" y2="348.3" stroke="#262626" stroke-width="1"/>
<line x1="311.74" y1="194.5" x2="311.74" y2="198.0" stroke="#262626" stroke-width="1"/>
<line x1="326.39" y1="351.8" x2="326.39" y2="348.3" stroke="#262626" stroke-width="1"/>
<line x1="326.39" y1="194.5" x2="326.39" y2="198.0" stroke="#262626" stroke-width="1"/>
<line x1="339.09" y1="351.8" x2="339.09" y2="348.3" stroke="#262626" stroke-width="1"/>
<line x1="339.09" y1="194.5" x2="339.09" y2="198.0" stroke="#262626" stroke-width="1"/>
<line x1="350.28" y1="351.8" x2="350.28" y2="348.3" stroke="#262626" stroke-width="1"/>
<line x1="350.28" y1="194.5" x2="350.28" y2="198.0" stroke="#262626" stroke-width="1"/>
<line x1="360.30" y1="351.8" x2="360.30" y2="345.3" stroke="#262626" stroke-width="1"/>
<line x1="360.30" y1="194.5" x2="360.30" y2="201.0" stroke="#262626" stroke-width="1"/>
<line x1="426.20" y1="351.8" x2="426.20" y2="348.3" stroke="#262626" stroke-width="1"/>
<line x1="426.20" y1="194.5" x2="426.20" y2="198.0" stroke="#262626" stroke-width="1"/>
<line x1="464.74" y1="351.8" x2="464.74" y2="348.3" stroke="#262626" stroke-width="1"/>
<line x1="464.74" y1="194.5" x2="464.74" y2="198.0" stroke="#262626" stroke-width="1"/>
<line x1="492.09" y1="351.8" x2="492.09" y2="348.3" stroke="#262626" stroke-width="1"/>
<line x1="492.09" y1="194.5" x2="492.09" y2="198.0" stroke="#262626" stroke-width="1"/>
<line x1="513.30" y1="351.8" x2="513.30" y2="348.3" stroke="#262626" stroke-width="1"/>
<line x1="513.30" y1="194.5" x2="513.30" y2="198.0" stroke="#262626" stroke-width="1"/>
<line x1="530.64" y1="351.8" x2="530.64" y2="348.3" stroke="#262626" stroke-width="1"/>
<line x1="530.64" y1="194.5" x2="530.64" y2="198.0" stroke="#262626" stroke-width="1"/>
<line x1="545.29" y1="351.8" x2="545.29" y2="348.3" stroke="#262626" stroke-width="1"/>
<line x1="545.29" y1="194.5" x2="545.29" y2="198.0" stroke="#262626" stroke-width="1"/>
<line x1="557.99" y1="351.8" x2="557.99" y2="348.3" stroke="#262626" stroke-width="1"/>
<line x1="557.99" y1="194.5" x2="557.99" y2="198.0" stroke="#262626" stroke-width="1"/>
<line x1="569.18" y1="351.8" x2="569.18" y2="348.3" stroke="#262626" stroke-width="1"/>
<line x1="569.18" y1="194.5" x2="569.18" y2="198.0" stroke="#262626" stroke-width="1"/>
<line x1="579.20" y1="351.8" x2="579.20" y2="345.3" stroke="#262626" stroke-width="1"/>
<line x1="579.20" y1="194.5" x2="579.20" y2="201.0" stroke="#262626" stroke-width="1"/>
<line x1="645.10" y1="351.8" x2="645.10" y2="348.3" stroke="#262626" stroke-width="1"/>
<line x1="645.10" y1="194.5" x2="645.10" y2="198.0" stroke="#262626" stroke-width="1"/>
<line x1="683.64" y1="351.8" x2="683.64" y2="348.3" stroke="#262626" stroke-width="1"/>
<line x1="683.64" y1="194.5" x2="683.64" y2="198.0" stroke="#262626" stroke-width="1"/>
<line x1="53.8" y1="351.80" x2="60.3" y2="351.80" stroke="#262626" stroke-width="1"/>
<line x1="683.8" y1="351.80" x2="677.3" y2="351.80" stroke="#262626" stroke-width="1"/>
<line x1="53.8" y1="330.40" x2="57.3" y2="330.40" stroke="#262626" stroke-width="1"/>
<line x1="683.8" y1="330.40" x2="680.3" y2="330.40" stroke="#262626" stroke-width="1"/>
<line x1="53.8" y1="309.00" x2="57.3" y2="309.00" stroke="#262626" stroke-width="1"/>
<line x1="683.8" y1="309.00" x2="680.3" y2="309.00" stroke="#262626" stroke-width="1"/>
<line x1="53.8" y1="287.60" x2="57.3" y2="287.60" stroke="#262626" stroke-width="1"/>
<line x1="683.8" y1="287.60" x2="680.3" y2="287.60" stroke="#262626" stroke-width="1"/>
<line x1="53.8" y1="266.20" x2="57.3" y2="266.20" stroke="#262626" stroke-width="1"/>
<line x1="683.8" y1="266.20" x2="680.3" y2="266.20" stroke="#262626" stroke-width="1"/>
<line x1="53.8" y1="244.80" x2="60.3" y2="244.80" stroke="#262626" stroke-width="1"/>
<line x1="683.8" y1="244.80" x2="677.3" y2="244.80" stroke="#262626" stroke-width="1"/>
<line x1="53.8" y1="223.40" x2="57.3" y2="223.40" stroke="#262626" stroke-width="1"/>
<line x1="683.8" y1="223.40" x2="680.3" y2="223.40" stroke="#262626" stroke-width="1"/>
<line x1="53.8" y1="202.00" x2="57.3" y2="202.00" stroke="#262626" stroke-width="1"/>
<line x1="683.8" y1="202.00" x2="680.3" y2="202.00" stroke="#262626" stroke-width="1"/>
<rect x="53.8" y="194.5" width="630.00" height="157.30" fill="none" stroke="#262626" stroke-width="1"/>
<rect x="62.5" y="85.5" width="175.5" height="70.5" fill="#fff" stroke="#262626" stroke-width="1"/>
<line x1="65" y1="95.2" x2="83.5" y2="95.2" stroke="#000000" stroke-width="1.3"/>
<text x="86" y="101.0" font-family="Liberation Sans, sans-serif" font-size="14" fill="#000">motion amplitude: 1 cm</text>
<line x1="65" y1="112.2" x2="83.5" y2="112.2" stroke="#ff0000" stroke-width="1.3"/>
<text x="86" y="118.0" font-family="Liberation Sans, sans-serif" font-size="14" fill="#000">motion amplitude: 2 cm</text>
<line x1="65" y1="129.4" x2="83.5" y2="129.4" stroke="#0072bd" stroke-width="1.3"/>
<text x="86" y="135.20000000000002" font-family="Liberation Sans, sans-serif" font-size="14" fill="#000">motion amplitude: 3 cm</text>
<line x1="65" y1="146.4" x2="83.5" y2="146.4" stroke="#12851a" stroke-width="1.3"/>
<text x="86" y="152.20000000000002" font-family="Liberation Sans, sans-serif" font-size="14" fill="#000">motion amplitude: 4 cm</text>
<rect x="60.5" y="272.5" width="182.0" height="70.0" fill="#fff" stroke="#262626" stroke-width="1"/>
<line x1="63" y1="282.5" x2="80.7" y2="282.5" stroke="#000000" stroke-width="1.3"/>
<text x="83.5" y="288.3" font-family="Liberation Sans, sans-serif" font-size="14" fill="#000">motion frequency: 0.1 Hz</text>
<line x1="63" y1="299" x2="80.7" y2="299" stroke="#ff0000" stroke-width="1.3"/>
<text x="83.5" y="304.8" font-family="Liberation Sans, sans-serif" font-size="14" fill="#000">motion frequency: 0.5 Hz</text>
<line x1="63" y1="316" x2="80.7" y2="316" stroke="#0072bd" stroke-width="1.3"/>
<text x="83.5" y="321.8" font-family="Liberation Sans, sans-serif" font-size="14" fill="#000">motion frequency: 1 Hz</text>
<line x1="63" y1="333" x2="80.7" y2="333" stroke="#12851a" stroke-width="1.3"/>
<text x="83.5" y="338.8" font-family="Liberation Sans, sans-serif" font-size="14" fill="#000">motion frequency: 2 Hz</text>
<text x="137.60" y="190.90" font-family="Liberation Sans, sans-serif" font-size="15" text-anchor="middle" fill="#000">10<tspan font-size="12.2" dy="-7.3">-2</tspan></text>
<text x="357.60" y="190.90" font-family="Liberation Sans, sans-serif" font-size="15" text-anchor="middle" fill="#000">10<tspan font-size="12.2" dy="-7.3">-1</tspan></text>
<text x="577.60" y="190.90" font-family="Liberation Sans, sans-serif" font-size="15" text-anchor="middle" fill="#000">10<tspan font-size="12.2" dy="-7.3">0</tspan></text>
<text x="49.40" y="65.80" font-family="Liberation Sans, sans-serif" font-size="15" text-anchor="end" fill="#000">10<tspan font-size="12.2" dy="-7.3">0</tspan></text>
<text x="141.40" y="376.20" font-family="Liberation Sans, sans-serif" font-size="15" text-anchor="middle" fill="#000">10<tspan font-size="12.2" dy="-7.3">-2</tspan></text>
<text x="360.30" y="376.20" font-family="Liberation Sans, sans-serif" font-size="15" text-anchor="middle" fill="#000">10<tspan font-size="12.2" dy="-7.3">-1</tspan></text>
<text x="579.20" y="376.20" font-family="Liberation Sans, sans-serif" font-size="15" text-anchor="middle" fill="#000">10<tspan font-size="12.2" dy="-7.3">0</tspan></text>
<text x="49.40" y="253.00" font-family="Liberation Sans, sans-serif" font-size="15" text-anchor="end" fill="#000">10<tspan font-size="12.2" dy="-7.3">0</tspan></text>
<text x="49.40" y="360.00" font-family="Liberation Sans, sans-serif" font-size="15" text-anchor="end" fill="#000">10<tspan font-size="12.2" dy="-7.3">-5</tspan></text>
<text transform="translate(18.8,84.7) rotate(-90)" font-family="Liberation Sans, sans-serif" font-size="17" text-anchor="middle" fill="#000">Amplitude</text>
<text transform="translate(14.6,273.0) rotate(-90)" font-family="Liberation Sans, sans-serif" font-size="17" text-anchor="middle" fill="#000">Amplitude</text>
<text x="370.3" y="397.8" font-family="Liberation Sans, sans-serif" font-size="17.2" text-anchor="middle" fill="#000">Frequency (Hz)</text>
</svg>
</body></html>
